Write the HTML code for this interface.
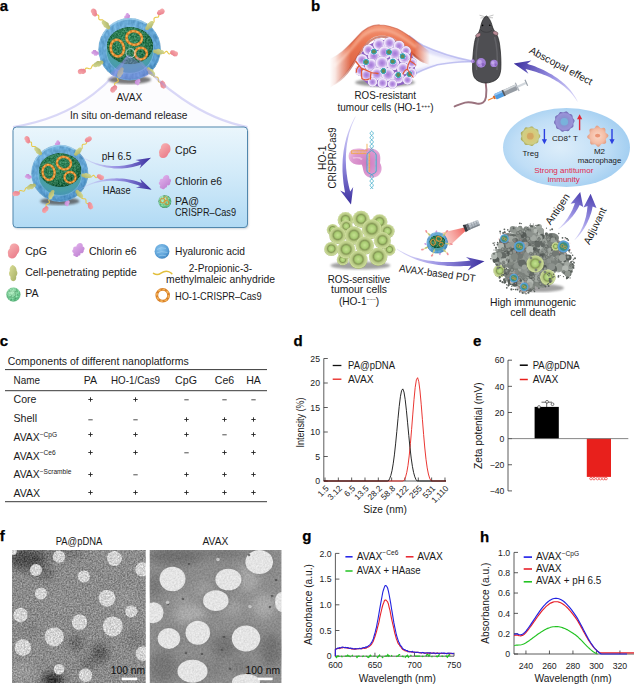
<!DOCTYPE html>
<html><head><meta charset="utf-8"><title>Figure</title>
<style>html,body{margin:0;padding:0;background:#fff}svg{display:block}text{font-family:"Liberation Sans",sans-serif}</style>
</head><body>
<svg width="634" height="685" viewBox="0 0 634 685">
<defs>
<filter id="grainL" x="0" y="0" width="100%" height="100%" color-interpolation-filters="sRGB">
  <feTurbulence type="fractalNoise" baseFrequency="0.62" numOctaves="2" seed="4" result="n"/>
  <feColorMatrix in="n" type="matrix" values="1.6 0 0 0 -0.3  1.6 0 0 0 -0.3  1.6 0 0 0 -0.3  0 0 0 0 1" result="g"/>
  <feComposite in="SourceGraphic" in2="g" operator="arithmetic" k1="0" k2="1" k3="0.28" k4="-0.14"/>
</filter>
<filter id="grainR" x="0" y="0" width="100%" height="100%" color-interpolation-filters="sRGB">
  <feTurbulence type="fractalNoise" baseFrequency="0.55" numOctaves="2" seed="9" result="n"/>
  <feColorMatrix in="n" type="matrix" values="1.4 0 0 0 -0.2  1.4 0 0 0 -0.2  1.4 0 0 0 -0.2  0 0 0 0 1" result="g"/>
  <feComposite in="SourceGraphic" in2="g" operator="arithmetic" k1="0" k2="1" k3="0.12" k4="-0.06"/>
</filter>
<filter id="grainShell" x="0" y="0" width="100%" height="100%" color-interpolation-filters="sRGB">
  <feTurbulence type="fractalNoise" baseFrequency="0.35 0.2" numOctaves="2" seed="5" result="n"/>
  <feColorMatrix in="n" type="matrix" values="1.5 0 0 0 -0.25  1.5 0 0 0 -0.25  1.5 0 0 0 -0.25  0 0 0 0 1" result="g"/>
  <feComposite in="SourceGraphic" in2="g" operator="arithmetic" k1="0" k2="1" k3="0.16" k4="-0.08" result="c"/>
  <feComposite in="c" in2="SourceGraphic" operator="in"/>
</filter>
<filter id="b06"><feGaussianBlur stdDeviation="0.6"/></filter>
<filter id="b1"><feGaussianBlur stdDeviation="1"/></filter>
<filter id="b2"><feGaussianBlur stdDeviation="2"/></filter>
<filter id="b4"><feGaussianBlur stdDeviation="4"/></filter>
<filter id="b8"><feGaussianBlur stdDeviation="8"/></filter>
<clipPath id="clipL"><rect x="12" y="550" width="133.7" height="133"/></clipPath>
<clipPath id="clipR"><rect x="149.6" y="550" width="132" height="133"/></clipPath>
</defs>
<defs>
<radialGradient id="gShell" cx="0.45" cy="0.4" r="0.62">
  <stop offset="0" stop-color="#7ab6de"/><stop offset="0.6" stop-color="#65a6d4"/><stop offset="0.88" stop-color="#5598cb"/><stop offset="1" stop-color="#3c7eb4"/>
</radialGradient>
<radialGradient id="gCav" cx="0.5" cy="0.35" r="0.7">
  <stop offset="0" stop-color="#3f9a8a"/><stop offset="0.75" stop-color="#4a9fa8"/><stop offset="1" stop-color="#4490b8"/>
</radialGradient>
<radialGradient id="gCore" cx="0.45" cy="0.4" r="0.65">
  <stop offset="0" stop-color="#378a60"/><stop offset="0.6" stop-color="#2c7a52"/><stop offset="1" stop-color="#1d5c3c"/>
</radialGradient>
<radialGradient id="gPA" cx="0.4" cy="0.35" r="0.7">
  <stop offset="0" stop-color="#aee6bd"/><stop offset="0.6" stop-color="#72c690"/><stop offset="1" stop-color="#48a66e"/>
</radialGradient>
<radialGradient id="gHA" cx="0.4" cy="0.35" r="0.7">
  <stop offset="0" stop-color="#8cc6ee"/><stop offset="0.7" stop-color="#5a9fd6"/><stop offset="1" stop-color="#3f82bd"/>
</radialGradient>
<linearGradient id="gCpG" x1="0" y1="0" x2="1" y2="1"><stop offset="0" stop-color="#f8b4b4"/><stop offset="1" stop-color="#e87484"/></linearGradient>
<linearGradient id="gCe6" x1="0" y1="0" x2="1" y2="1"><stop offset="0" stop-color="#e6b8f0"/><stop offset="1" stop-color="#b878cc"/></linearGradient>
<linearGradient id="gPep" x1="0" y1="0" x2="1" y2="1"><stop offset="0" stop-color="#dde09a"/><stop offset="1" stop-color="#a4ad62"/></linearGradient>
<linearGradient id="gBox" x1="0" y1="0" x2="0" y2="1"><stop offset="0" stop-color="#eaf6fc"/><stop offset="0.45" stop-color="#d3ebf9"/><stop offset="1" stop-color="#b1daf4"/></linearGradient>
<filter id="grainCore" x="0" y="0" width="100%" height="100%" color-interpolation-filters="sRGB">
  <feTurbulence type="fractalNoise" baseFrequency="0.55" numOctaves="2" seed="2" result="n"/>
  <feColorMatrix in="n" type="matrix" values="1.5 0 0 0 -0.25  1.5 0 0 0 -0.25  1.5 0 0 0 -0.25  0 0 0 0 1" result="g"/>
  <feComposite in="SourceGraphic" in2="g" operator="arithmetic" k1="0" k2="1" k3="0.3" k4="-0.15" result="c"/>
  <feComposite in="c" in2="SourceGraphic" operator="in"/>
</filter>
<!-- blob symbols drawn around origin, pointing up (-y) -->
<path id="sCpG" d="M-1 -5C1 -5.6 3.2 -4.6 3.4 -2.6C4 -1.4 3.8 0.4 2.8 1.4C2.8 3 1.6 4.8 -0.2 5C-1.8 5.2 -3 4.2 -3 2.8C-3.8 1.6 -3.6 0 -2.8 -1C-3.2 -2.8 -2.6 -4.4 -1 -5Z"/>
<path id="sCe6" d="M0.4 -5C1.6 -5.2 2.6 -4.2 2.4 -3C3.8 -3 4.4 -1.6 3.6 -0.6C4 0.8 3 1.8 1.8 1.6C2.2 2.8 1.6 3.6 0.8 3.4C0.6 4.6 -0.6 5.2 -1.4 4.4C-2.6 4.6 -3.2 3.4 -2.6 2.4C-3.8 2.2 -4.4 0.8 -3.4 0C-4 -1.2 -3 -2.2 -1.8 -2C-1.8 -3.6 -0.8 -4.8 0.4 -5Z"/>
<path id="sPep" d="M0 -5.2C1.5 -4.6 2.4 -3 2.2 -1.4C2.9 -0.4 2.7 1.2 1.7 2C2 3.6 1.1 5 -0.2 5C-1.6 4.9 -2.2 3.5 -1.8 2.2C-2.9 1.2 -2.9 -0.6 -2 -1.6C-2.4 -3.2 -1.4 -4.8 0 -5.2Z"/>
</defs>
<defs>
<radialGradient id="gPurp" cx="0.5" cy="0.5" r="0.5">
  <stop offset="0" stop-color="#a378d6"/><stop offset="0.4" stop-color="#bb96e4"/><stop offset="0.62" stop-color="#d6bff0"/><stop offset="0.8" stop-color="#f1eafb"/><stop offset="0.93" stop-color="#e9dcf7"/><stop offset="1" stop-color="#a98cd2"/>
</radialGradient>
<radialGradient id="gTeal" cx="0.5" cy="0.5" r="0.5">
  <stop offset="0" stop-color="#6f8a4c"/><stop offset="0.5" stop-color="#5f8a58"/><stop offset="0.62" stop-color="#3a9cae"/><stop offset="0.9" stop-color="#4ab0c0"/><stop offset="1" stop-color="#e8f4f8"/>
</radialGradient>
<radialGradient id="gGreenCell" cx="0.5" cy="0.48" r="0.52">
  <stop offset="0" stop-color="#c4e090"/><stop offset="0.34" stop-color="#a8cc72"/><stop offset="0.5" stop-color="#869a56"/><stop offset="0.66" stop-color="#b6c882"/><stop offset="0.9" stop-color="#ccdb9a"/><stop offset="1" stop-color="#9aac64"/>
</radialGradient>
<linearGradient id="gSkin" x1="0" y1="0" x2="0" y2="1"><stop offset="0" stop-color="#f29474"/><stop offset="0.3" stop-color="#ea7450"/><stop offset="1" stop-color="#d25a40"/></linearGradient>
<linearGradient id="gArchM" gradientUnits="userSpaceOnUse" x1="322" y1="0" x2="432" y2="0"><stop offset="0" stop-color="#000"/><stop offset="0.07" stop-color="#000"/><stop offset="0.12" stop-color="#262626"/><stop offset="0.18" stop-color="#8a8a8a"/><stop offset="0.26" stop-color="#fff"/><stop offset="0.84" stop-color="#fff"/><stop offset="0.98" stop-color="#000"/><stop offset="1" stop-color="#000"/></linearGradient>
<mask id="mArch" maskUnits="userSpaceOnUse" x="320" y="15" width="115" height="80"><rect x="320" y="15" width="115" height="80" fill="url(#gArchM)"/></mask>
<linearGradient id="gSkinFade" gradientUnits="userSpaceOnUse" x1="326" y1="0" x2="358" y2="0"><stop offset="0" stop-color="#fff" stop-opacity="1"/><stop offset="1" stop-color="#fff" stop-opacity="0"/></linearGradient>
<linearGradient id="gSkinFadeR" gradientUnits="userSpaceOnUse" x1="414" y1="0" x2="431" y2="0"><stop offset="0" stop-color="#fff" stop-opacity="0"/><stop offset="1" stop-color="#fff" stop-opacity="1"/></linearGradient>
<radialGradient id="gImm" cx="0.45" cy="0.5" r="0.6">
  <stop offset="0" stop-color="#dcedfa"/><stop offset="0.6" stop-color="#c0def6"/><stop offset="1" stop-color="#9ccbf0"/>
</radialGradient>
<radialGradient id="gTreg" cx="0.5" cy="0.5" r="0.5"><stop offset="0" stop-color="#d8b46a"/><stop offset="0.35" stop-color="#d8c878"/><stop offset="0.8" stop-color="#cfcf86"/><stop offset="1" stop-color="#a8a85a"/></radialGradient>
<radialGradient id="gCD8" cx="0.5" cy="0.5" r="0.5"><stop offset="0" stop-color="#7fb0d8"/><stop offset="0.4" stop-color="#8a90d0"/><stop offset="0.8" stop-color="#9a92d8"/><stop offset="1" stop-color="#6c64b0"/></radialGradient>
<radialGradient id="gM2" cx="0.5" cy="0.5" r="0.5"><stop offset="0" stop-color="#fbd8c8"/><stop offset="0.7" stop-color="#f4bca4"/><stop offset="1" stop-color="#e09a80"/></radialGradient>
<radialGradient id="gCas" cx="0.55" cy="0.5" r="0.6"><stop offset="0" stop-color="#cf7cc0"/><stop offset="0.7" stop-color="#dc98d0"/><stop offset="1" stop-color="#eab8e0"/></radialGradient>
</defs>
<text x="-0.3" y="11.35" font-size="15" font-weight="bold" fill="#000" stroke="#000" stroke-width="0.25">a</text>
<ellipse cx="129.6" cy="79.8" rx="21.5" ry="4.2" fill="#4a4a4a" opacity="0.75" filter="url(#b1)"/>
<path d="M103.6 22.3 L103.6 21.2 L103.3 20.4 L102.6 19.9 L101.6 19.8 L100.4 19.9 L99.5 19.7 L98.9 19.2 L98.7 18.2 L98.8 17.1 L98.8 16.0 L98.4 15.3 L97.6 14.9 L96.5 14.9 L95.4 14.9" stroke="#e8c94a" stroke-width="1.1" fill="none" stroke-linecap="round" stroke-linejoin="round"/>
<use href="#sCpG" transform="translate(94.1 12.5) rotate(-34) scale(0.8)" fill="url(#gCpG)"/>
<use href="#sCe6" transform="translate(127.1 16.9) rotate(-4) scale(0.78)" fill="url(#gCe6)"/>
<path d="M151.8 22.9 L152.9 22.7 L153.7 22.4 L154.1 21.6 L154.1 20.6 L154.0 19.4 L154.1 18.4 L154.6 17.7 L155.5 17.4 L156.7 17.3 L157.8 17.2 L158.5 16.7 L158.8 15.9 L158.7 14.8 L158.6 13.6" stroke="#e8c94a" stroke-width="1.1" fill="none" stroke-linecap="round" stroke-linejoin="round"/>
<use href="#sCpG" transform="translate(160.8 12.1) rotate(50) scale(0.8)" fill="url(#gCpG)"/>
<path d="M162.0 52.1 L162.6 53.0 L163.2 53.4 L163.9 53.3 L164.7 52.7 L165.4 51.9 L166.1 51.4 L166.8 51.4 L167.4 52.0 L168.0 52.9 L168.7 53.7 L169.3 54.0 L170.0 53.7 L170.8 53.0 L171.5 52.3" stroke="#e8c94a" stroke-width="1.1" fill="none" stroke-linecap="round" stroke-linejoin="round"/>
<use href="#sCpG" transform="translate(174.0 53.2) rotate(105) scale(0.8)" fill="url(#gCpG)"/>
<path d="M153.3 74.4 L153.3 75.5 L153.6 76.4 L154.3 76.8 L155.3 77.0 L156.5 77.0 L157.5 77.2 L158.1 77.8 L158.3 78.7 L158.2 79.9 L158.3 81.0 L158.6 81.8 L159.4 82.1 L160.6 82.2 L161.7 82.2" stroke="#e8c94a" stroke-width="1.1" fill="none" stroke-linecap="round" stroke-linejoin="round"/>
<use href="#sCpG" transform="translate(163.0 84.6) rotate(147) scale(0.8)" fill="url(#gCpG)"/>
<use href="#sCe6" transform="translate(137.6 81.3) rotate(166) scale(0.78)" fill="url(#gCe6)"/>
<path d="M119.1 75.8 L118.0 76.3 L117.3 76.9 L117.2 77.7 L117.6 78.7 L118.0 79.8 L118.3 80.8 L118.0 81.5 L117.2 82.1 L116.1 82.6 L115.2 83.1 L114.6 83.7 L114.6 84.6 L115.0 85.7 L115.5 86.7" stroke="#e8c94a" stroke-width="1.1" fill="none" stroke-linecap="round" stroke-linejoin="round"/>
<use href="#sCpG" transform="translate(113.8 88.9) rotate(212) scale(0.8)" fill="url(#gCpG)"/>
<path d="M95.1 65.2 L94.0 64.9 L93.0 64.9 L92.4 65.4 L91.9 66.4 L91.4 67.5 L90.9 68.4 L90.1 68.8 L89.1 68.7 L88.0 68.3 L86.9 68.0 L86.0 68.1 L85.4 68.8 L84.9 69.8 L84.5 70.9" stroke="#e8c94a" stroke-width="1.1" fill="none" stroke-linecap="round" stroke-linejoin="round"/>
<use href="#sCpG" transform="translate(81.9 71.4) rotate(255) scale(0.8)" fill="url(#gCpG)"/>
<use href="#sCe6" transform="translate(95.3 52.9) rotate(264) scale(0.78)" fill="url(#gCe6)"/>
<g filter="url(#grainShell)"><circle cx="129.6" cy="49.3" r="31.3" fill="url(#gShell)"/></g>
<ellipse cx="129.9" cy="50.8" rx="23.6" ry="22.6" fill="url(#gCav)"/>
<ellipse cx="129.9" cy="50.8" rx="23.6" ry="22.6" fill="none" stroke="#8fc8ea" stroke-width="0.70" opacity="0.7"/>
<g filter="url(#grainCore)"><ellipse cx="130.0" cy="45.7" rx="23.2" ry="18.6" fill="url(#gCore)"/></g>
<circle cx="129.6" cy="49.3" r="30.8" fill="none" stroke="#9fd0f0" stroke-width="0.80" opacity="0.55"/>
<path d="M102.7 35.2A30.4 30.4 0 0 1 145.2 23.3" fill="none" stroke="#b5dcf4" stroke-width="1.60" opacity="0.55" stroke-linecap="round"/>
<use href="#sPep" transform="translate(106.0 24.8) rotate(-44) scale(1.1)" fill="url(#gPep)"/>
<use href="#sPep" transform="translate(149.5 25.6) rotate(40) scale(1.1)" fill="url(#gPep)"/>
<use href="#sPep" transform="translate(158.5 51.8) rotate(95) scale(1.1)" fill="url(#gPep)"/>
<use href="#sPep" transform="translate(150.9 71.8) rotate(137) scale(1.1)" fill="url(#gPep)"/>
<use href="#sPep" transform="translate(120.4 72.5) rotate(202) scale(1.1)" fill="url(#gPep)"/>
<use href="#sPep" transform="translate(98.3 63.8) rotate(245) scale(1.1)" fill="url(#gPep)"/>
<ellipse cx="117.3" cy="48.1" rx="6.6" ry="8.4" fill="none" stroke="#d9822a" stroke-width="2.7" transform="rotate(-10 117.3 48.1)"/>
<ellipse cx="117.3" cy="48.1" rx="6.6" ry="8.4" fill="none" stroke="#f4b45a" stroke-width="1.49" stroke-dasharray="2.43 1.89" transform="rotate(-10 117.3 48.1)"/>
<ellipse cx="134.2" cy="38.0" rx="7.8" ry="6.8" fill="none" stroke="#d9822a" stroke-width="2.7" transform="rotate(15 134.2 38.0)"/>
<ellipse cx="134.2" cy="38.0" rx="7.8" ry="6.8" fill="none" stroke="#f4b45a" stroke-width="1.49" stroke-dasharray="2.43 1.89" transform="rotate(15 134.2 38.0)"/>
<ellipse cx="140.9" cy="53.6" rx="6.0" ry="5.8" fill="none" stroke="#d9822a" stroke-width="2.5"/>
<ellipse cx="140.9" cy="53.6" rx="6.0" ry="5.8" fill="none" stroke="#f4b45a" stroke-width="1.38" stroke-dasharray="2.25 1.75"/>
<circle cx="130.5" cy="53.2" r="4.5" fill="none" stroke="#e4eef4" stroke-width="0.80" opacity="0.9"/>
<path d="M127.5 56C118 74 84 116 13 127L247.5 127C200 118 158 84 136.5 57Z" fill="#a9a6ee" opacity="0.04"/>
<path d="M128.5 54.5L110 74Q130 86 153 73Z" fill="#8f8ce8" opacity="0.42" filter="url(#b06)"/>
<path d="M127.5 56C118 74 84 116 13 127" fill="none" stroke="#9a96ea" stroke-width="2.2" opacity="0.36" filter="url(#b06)"/>
<path d="M136.5 57C158 84 200 118 247.5 127" fill="none" stroke="#9a96ea" stroke-width="2.2" opacity="0.36" filter="url(#b06)"/>
<rect x="128" y="88" width="40" height="36" fill="#fff" opacity="0"/>
<text x="129.4" y="100.6" font-size="10.2" text-anchor="middle" fill="#1a1a1a">AVAX</text>
<text x="70" y="118.8" font-size="10.6" fill="#1a1a1a" textLength="117.5" lengthAdjust="spacingAndGlyphs">In situ on-demand release</text>
<rect x="14" y="128.6" width="234.2" height="100" rx="3.5" fill="#7a8a98" opacity="0.5" filter="url(#b1)"/>
<rect x="13" y="127" width="234.5" height="100.5" rx="3.5" fill="url(#gBox)" stroke="#5187ad" stroke-width="1"/>
<ellipse cx="59.8" cy="201.3" rx="19.6" ry="3.8" fill="#4a4a4a" opacity="0.75" filter="url(#b1)"/>
<path d="M36.0 148.8 L36.0 147.7 L35.8 147.0 L35.2 146.6 L34.2 146.5 L33.2 146.5 L32.3 146.4 L31.8 145.9 L31.6 145.0 L31.6 144.0 L31.6 143.0 L31.3 142.3 L30.6 142.0 L29.6 142.0 L28.6 142.0" stroke="#e8c94a" stroke-width="1.013738019169329" fill="none" stroke-linecap="round" stroke-linejoin="round"/>
<use href="#sCpG" transform="translate(27.4 139.8) rotate(-34) scale(0.7309904153354633)" fill="url(#gCpG)"/>
<use href="#sCe6" transform="translate(57.5 143.8) rotate(-4) scale(0.7127156549520767)" fill="url(#gCe6)"/>
<path d="M80.1 149.3 L81.1 149.1 L81.9 148.8 L82.2 148.1 L82.2 147.1 L82.1 146.1 L82.2 145.2 L82.6 144.6 L83.5 144.3 L84.6 144.2 L85.5 144.1 L86.2 143.6 L86.5 142.9 L86.4 141.8 L86.3 140.8" stroke="#e8c94a" stroke-width="1.013738019169329" fill="none" stroke-linecap="round" stroke-linejoin="round"/>
<use href="#sCpG" transform="translate(88.3 139.4) rotate(50) scale(0.7309904153354633)" fill="url(#gCpG)"/>
<path d="M89.4 176.0 L89.9 176.8 L90.5 177.2 L91.2 177.1 L91.8 176.5 L92.5 175.8 L93.2 175.3 L93.8 175.3 L94.4 175.9 L94.9 176.7 L95.5 177.4 L96.1 177.7 L96.7 177.4 L97.4 176.8 L98.1 176.1" stroke="#e8c94a" stroke-width="1.013738019169329" fill="none" stroke-linecap="round" stroke-linejoin="round"/>
<use href="#sCpG" transform="translate(100.4 177.0) rotate(105) scale(0.7309904153354633)" fill="url(#gCpG)"/>
<path d="M81.5 196.3 L81.5 197.3 L81.7 198.1 L82.3 198.6 L83.3 198.7 L84.4 198.7 L85.3 198.9 L85.8 199.4 L86.0 200.3 L86.0 201.3 L86.0 202.3 L86.3 203.1 L87.1 203.4 L88.1 203.5 L89.1 203.5" stroke="#e8c94a" stroke-width="1.013738019169329" fill="none" stroke-linecap="round" stroke-linejoin="round"/>
<use href="#sCpG" transform="translate(90.3 205.7) rotate(147) scale(0.7309904153354633)" fill="url(#gCpG)"/>
<use href="#sCe6" transform="translate(67.1 202.7) rotate(166) scale(0.7127156549520767)" fill="url(#gCe6)"/>
<path d="M50.2 197.6 L49.2 198.0 L48.6 198.6 L48.5 199.3 L48.8 200.3 L49.2 201.3 L49.4 202.2 L49.2 202.9 L48.5 203.4 L47.5 203.8 L46.6 204.3 L46.1 204.9 L46.1 205.7 L46.5 206.6 L46.9 207.6" stroke="#e8c94a" stroke-width="1.013738019169329" fill="none" stroke-linecap="round" stroke-linejoin="round"/>
<use href="#sCpG" transform="translate(45.4 209.6) rotate(212) scale(0.7309904153354633)" fill="url(#gCpG)"/>
<path d="M28.3 188.0 L27.3 187.6 L26.4 187.6 L25.8 188.1 L25.3 189.0 L24.9 190.0 L24.4 190.9 L23.7 191.2 L22.8 191.1 L21.8 190.7 L20.8 190.5 L20.0 190.6 L19.4 191.2 L19.0 192.1 L18.6 193.1" stroke="#e8c94a" stroke-width="1.013738019169329" fill="none" stroke-linecap="round" stroke-linejoin="round"/>
<use href="#sCpG" transform="translate(16.2 193.6) rotate(255) scale(0.7309904153354633)" fill="url(#gCpG)"/>
<use href="#sCe6" transform="translate(28.4 176.7) rotate(264) scale(0.7127156549520767)" fill="url(#gCe6)"/>
<g filter="url(#grainShell)"><circle cx="59.8" cy="173.4" r="28.6" fill="url(#gShell)"/></g>
<ellipse cx="60.1" cy="174.8" rx="21.6" ry="20.7" fill="url(#gCav)"/>
<ellipse cx="60.1" cy="174.8" rx="21.6" ry="20.7" fill="none" stroke="#8fc8ea" stroke-width="0.64" opacity="0.7"/>
<g filter="url(#grainCore)"><ellipse cx="60.2" cy="170.1" rx="21.2" ry="17.0" fill="url(#gCore)"/></g>
<circle cx="59.8" cy="173.4" r="28.1" fill="none" stroke="#9fd0f0" stroke-width="0.73" opacity="0.55"/>
<path d="M35.2 160.5A27.7 27.7 0 0 1 74.1 149.7" fill="none" stroke="#b5dcf4" stroke-width="1.46" opacity="0.55" stroke-linecap="round"/>
<use href="#sPep" transform="translate(38.2 151.1) rotate(-44) scale(1.005111821086262)" fill="url(#gPep)"/>
<use href="#sPep" transform="translate(78.0 151.7) rotate(40) scale(1.005111821086262)" fill="url(#gPep)"/>
<use href="#sPep" transform="translate(86.2 175.7) rotate(95) scale(1.005111821086262)" fill="url(#gPep)"/>
<use href="#sPep" transform="translate(79.3 194.0) rotate(137) scale(1.005111821086262)" fill="url(#gPep)"/>
<use href="#sPep" transform="translate(51.4 194.6) rotate(202) scale(1.005111821086262)" fill="url(#gPep)"/>
<use href="#sPep" transform="translate(31.2 186.6) rotate(245) scale(1.005111821086262)" fill="url(#gPep)"/>
<ellipse cx="48.6" cy="172.3" rx="6.0" ry="7.7" fill="none" stroke="#d9822a" stroke-width="2.4670926517571887" transform="rotate(-10 48.6 172.3)"/>
<ellipse cx="48.6" cy="172.3" rx="6.0" ry="7.7" fill="none" stroke="#f4b45a" stroke-width="1.36" stroke-dasharray="2.22 1.73" transform="rotate(-10 48.6 172.3)"/>
<ellipse cx="64.0" cy="163.1" rx="7.1" ry="6.2" fill="none" stroke="#d9822a" stroke-width="2.4670926517571887" transform="rotate(15 64.0 163.1)"/>
<ellipse cx="64.0" cy="163.1" rx="7.1" ry="6.2" fill="none" stroke="#f4b45a" stroke-width="1.36" stroke-dasharray="2.22 1.73" transform="rotate(15 64.0 163.1)"/>
<ellipse cx="70.1" cy="177.3" rx="5.5" ry="5.3" fill="none" stroke="#d9822a" stroke-width="2.2843450479233227"/>
<ellipse cx="70.1" cy="177.3" rx="5.5" ry="5.3" fill="none" stroke="#f4b45a" stroke-width="1.26" stroke-dasharray="2.06 1.60"/>
<linearGradient id="sw1" gradientUnits="userSpaceOnUse" x1="78" y1="153.5" x2="151" y2="157.7"><stop offset="0" stop-color="#c9c2f3" stop-opacity="0.25"/><stop offset="0.55" stop-color="#8f86e0" stop-opacity="0.9"/><stop offset="1" stop-color="#3a2e9e"/></linearGradient>
<path d="M77.9 153.6 L79.2 154.8 L80.7 156.0 L82.2 157.2 L83.8 158.3 L85.5 159.4 L87.3 160.4 L89.2 161.5 L91.1 162.4 L93.1 163.3 L95.2 164.2 L97.3 165.0 L99.5 165.7 L101.8 166.3 L104.1 166.9 L106.5 167.4 L109.0 167.8 L111.5 168.1 L114.0 168.4 L116.6 168.5 L119.2 168.5 L121.8 168.5 L124.5 168.3 L127.2 168.0 L130.0 167.5 L132.8 167.0 L135.6 166.3 L138.4 165.5 L141.2 164.5 L139.6 168.6 L151.0 157.7 L135.4 160.0 L139.9 161.2 L137.3 162.2 L134.6 163.1 L132.0 163.9 L129.4 164.5 L126.8 165.1 L124.2 165.5 L121.6 165.8 L119.1 166.0 L116.6 166.1 L114.1 166.1 L111.6 166.0 L109.2 165.8 L106.8 165.5 L104.5 165.1 L102.2 164.7 L100.0 164.2 L97.8 163.6 L95.6 162.9 L93.6 162.2 L91.5 161.4 L89.6 160.5 L87.7 159.6 L85.9 158.7 L84.2 157.7 L82.5 156.7 L81.0 155.6 L79.5 154.5 L78.1 153.4Z" fill="url(#sw1)"/>
<linearGradient id="sw2" gradientUnits="userSpaceOnUse" x1="78" y1="191" x2="151.7" y2="189.7"><stop offset="0" stop-color="#c9c2f3" stop-opacity="0.25"/><stop offset="0.55" stop-color="#8f86e0" stop-opacity="0.9"/><stop offset="1" stop-color="#3a2e9e"/></linearGradient>
<path d="M78.1 191.2 L79.5 190.2 L81.0 189.2 L82.5 188.3 L84.2 187.4 L85.9 186.5 L87.7 185.7 L89.6 184.9 L91.5 184.2 L93.5 183.6 L95.6 183.0 L97.8 182.4 L100.0 181.9 L102.2 181.5 L104.5 181.2 L106.9 180.9 L109.3 180.8 L111.7 180.7 L114.2 180.7 L116.7 180.8 L119.2 180.9 L121.8 181.2 L124.4 181.6 L127.0 182.1 L129.7 182.7 L132.3 183.4 L135.0 184.2 L137.7 185.1 L140.4 186.2 L135.9 187.4 L151.7 189.7 L140.1 178.8 L141.7 182.9 L138.8 181.9 L136.0 181.0 L133.1 180.3 L130.3 179.7 L127.5 179.2 L124.8 178.8 L122.1 178.6 L119.4 178.4 L116.8 178.3 L114.2 178.4 L111.6 178.5 L109.1 178.7 L106.6 179.0 L104.2 179.4 L101.9 179.9 L99.6 180.4 L97.4 181.0 L95.2 181.7 L93.2 182.4 L91.1 183.2 L89.2 184.0 L87.3 184.9 L85.5 185.8 L83.8 186.7 L82.2 187.7 L80.7 188.7 L79.2 189.8 L77.9 190.8Z" fill="url(#sw2)"/>
<text x="101.7" y="159.8" font-size="10.6" fill="#1a1a1a" textLength="29.8" lengthAdjust="spacingAndGlyphs">pH 6.5</text>
<text x="102.7" y="193.6" font-size="10.6" fill="#1a1a1a" textLength="27.9" lengthAdjust="spacingAndGlyphs">HAase</text>
<use href="#sCpG" transform="translate(164.6 150.8) rotate(12) scale(1.5)" fill="url(#gCpG)"/>
<use href="#sCe6" transform="translate(164.8 182.4) rotate(10) scale(1.5)" fill="url(#gCe6)"/>
<g filter="url(#grainCore)"><circle cx="164.8" cy="201.5" r="6.6" fill="url(#gPA)"/></g>
<circle cx="162.6" cy="200.6" r="2.3" fill="none" stroke="#e0902e" stroke-width="0.9"/><circle cx="166.8" cy="202.6" r="2.1" fill="none" stroke="#e0902e" stroke-width="0.9"/><circle cx="165.6" cy="198.6" r="1.8" fill="none" stroke="#e0902e" stroke-width="0.8"/>
<text x="175" y="153.8" font-size="10.6" fill="#1a1a1a">CpG</text>
<text x="175" y="184.9" font-size="10.6" fill="#1a1a1a" textLength="47" lengthAdjust="spacingAndGlyphs">Chlorin e6</text>
<text x="175" y="205" font-size="10.6" fill="#1a1a1a">PA@</text>
<text x="175" y="216" font-size="10.6" fill="#1a1a1a" textLength="61" lengthAdjust="spacingAndGlyphs">CRISPR–Cas9</text>
<use href="#sCpG" transform="translate(13.4 251.2) rotate(12) scale(1.5)" fill="url(#gCpG)"/>
<use href="#sCe6" transform="translate(78.3 250.2) rotate(10) scale(1.5)" fill="url(#gCe6)"/>
<use href="#sPep" transform="translate(13.2 273.2) rotate(-3) scale(1.6)" fill="url(#gPep)"/>
<g filter="url(#grainCore)"><circle cx="13.4" cy="294.6" r="7.1" fill="url(#gPA)"/></g>
<circle cx="13.4" cy="294.6" r="6.9" fill="none" stroke="#8fe0a8" stroke-width="0.6" opacity="0.8"/>
<circle cx="162" cy="251.3" r="7.4" fill="url(#gHA)"/>
<path d="M157 249.5Q161 246.5 166 248.5M156.5 253Q161 250.5 167.5 252.5M158.5 256Q162 254.5 166 255.8" stroke="#a8d6f4" stroke-width="0.7" fill="none" opacity="0.8"/>
<path d="M153.5 273.3C156 275 158.5 275 161 273.2C163.5 271.4 166 270.6 168.5 271.6C170 272.2 171 272.8 171.8 273.6" stroke="#e2bf3c" stroke-width="1.5" fill="none" stroke-linecap="round"/>
<ellipse cx="162.7" cy="295.3" rx="5.9" ry="5.9" fill="none" stroke="#d9822a" stroke-width="2.8"/>
<ellipse cx="162.7" cy="295.3" rx="5.9" ry="5.9" fill="none" stroke="#f4b45a" stroke-width="1.54" stroke-dasharray="2.52 1.96"/>
<text x="25.2" y="254.7" font-size="10.6" fill="#1a1a1a">CpG</text>
<text x="89" y="254.7" font-size="10.6" fill="#1a1a1a" textLength="47.5" lengthAdjust="spacingAndGlyphs">Chlorin e6</text>
<text x="25.2" y="275.8" font-size="10.6" fill="#1a1a1a" textLength="111.6" lengthAdjust="spacingAndGlyphs">Cell-penetrating peptide</text>
<text x="25.2" y="296.7" font-size="10.6" fill="#1a1a1a">PA</text>
<text x="175" y="254.7" font-size="10.6" fill="#1a1a1a" textLength="70" lengthAdjust="spacingAndGlyphs">Hyaluronic acid</text>
<text x="220.5" y="271.8" font-size="10.6" text-anchor="middle" fill="#1a1a1a" textLength="63.5" lengthAdjust="spacingAndGlyphs">2-Propionic-3-</text>
<text x="220.5" y="282.6" font-size="10.6" text-anchor="middle" fill="#1a1a1a" textLength="109" lengthAdjust="spacingAndGlyphs">methylmaleic anhydride</text>
<text x="175" y="299.8" font-size="10.6" fill="#1a1a1a" textLength="86.6" lengthAdjust="spacingAndGlyphs">HO-1-CRISPR–Cas9</text>
<text x="311" y="11.3" font-size="15" font-weight="bold" fill="#000" stroke="#000" stroke-width="0.25">b</text>
<path d="M471 60.8C452 57 437 52 423 45.5C417 42 412 38 409 35.5L410.5 76.5C417 72.5 424 69 437.6 64.7C452 62.3 462 61.6 471 61.8Z" fill="#c9caf5" opacity="0.6"/>
<path d="M462 61C446 59 430 55 414 47L414 70C430 65.5 446 62.6 462 61.6Z" fill="#fff" opacity="0.8" filter="url(#b1)"/>
<path d="M471 60.8C452 57 437 52 423 45.5C417 42 412 38 409 35.5" fill="none" stroke="#9fa0ea" stroke-width="1.5" opacity="0.6" filter="url(#b06)"/>
<path d="M471 61.8C462 61.6 452 62.3 437.6 64.7C424 69 417 72.5 410.5 76.5" fill="none" stroke="#9fa0ea" stroke-width="1.5" opacity="0.6" filter="url(#b06)"/>
<ellipse cx="385" cy="82.5" rx="30" ry="4.2" fill="#555" opacity="0.6" filter="url(#b1)"/>
<g mask="url(#mArch)">
<path d="M322 62C338 58 348 47 358 36C366 27 374 24.6 380 25C387 25.3 392 27 397 28.8C404 32 412 38 420 44.5C424 48 428 51 433 54L433 66C428 64.5 424 63 420.6 61.2C415 57 410 52 405 46.5C398 40 390 35.4 381 35.6C372 36 366 42 360 52C354 62 346 77 330 88L322 88Z" fill="url(#gSkin)"/>
<path d="M334 66C348 55 355 43 363 35.5C371 29 380 28.6 388 30.6C396 32.6 406 39 416 47" fill="none" stroke="#fbc0a6" stroke-width="3" opacity="0.6" filter="url(#b1)"/>
<path d="M334 84C348 76 354 62 361 51.5C367 42 374 37 381 36.6C390 36.4 398 41 405 47.5C411 53 416 58 424 62" fill="none" stroke="#b03e28" stroke-width="2.2" opacity="0.6" filter="url(#b06)"/>
<path d="M322 62C338 58 348 47 358 36C366 27 374 24.6 380 25C387 25.3 392 27 397 28.8C404 32 412 38 420 44.5C424 48 428 51 433 54" fill="none" stroke="#c8523a" stroke-width="1.2" opacity="0.6" filter="url(#b06)"/>
</g>
<path d="M359 62C360 50 370 41 384 40C398 39 410 47 414 60C417 70 413 80 404 84C394 88 378 88 368 84C361 80 358 72 359 62Z" fill="#8e62c2"/>
<circle cx="379" cy="44.5" r="6" fill="url(#gPurp)"/>
<circle cx="389.5" cy="43" r="6" fill="url(#gPurp)"/>
<circle cx="399" cy="46" r="5.6" fill="url(#gPurp)"/>
<circle cx="406" cy="51" r="5" fill="url(#gPurp)"/>
<circle cx="368.5" cy="50" r="5.6" fill="url(#gPurp)"/>
<circle cx="374" cy="56" r="6.2" fill="url(#gPurp)"/>
<circle cx="384.5" cy="52.5" r="6.6" fill="url(#gPurp)"/>
<circle cx="395" cy="53.5" r="6.6" fill="url(#gPurp)"/>
<circle cx="404.5" cy="58" r="6" fill="url(#gPurp)"/>
<circle cx="412" cy="63" r="5" fill="url(#gPurp)"/>
<circle cx="362" cy="60" r="6" fill="url(#gPurp)"/>
<circle cx="360.5" cy="70.5" r="5.4" fill="url(#gPurp)"/>
<circle cx="371" cy="65" r="6.6" fill="url(#gPurp)"/>
<circle cx="382" cy="63" r="6.8" fill="url(#gPurp)"/>
<circle cx="393" cy="64" r="6.6" fill="url(#gPurp)"/>
<circle cx="403" cy="68.5" r="6.2" fill="url(#gPurp)"/>
<circle cx="411.5" cy="73" r="5" fill="url(#gPurp)"/>
<circle cx="366.5" cy="75" r="6" fill="url(#gPurp)"/>
<circle cx="377" cy="74" r="6.6" fill="url(#gPurp)"/>
<circle cx="388" cy="74.5" r="6.8" fill="url(#gPurp)"/>
<circle cx="398" cy="77.5" r="6.2" fill="url(#gPurp)"/>
<circle cx="407.5" cy="80" r="4.8" fill="url(#gPurp)"/>
<circle cx="372.5" cy="82" r="4.8" fill="url(#gPurp)"/>
<circle cx="382.5" cy="83" r="5.2" fill="url(#gPurp)"/>
<circle cx="392.5" cy="84" r="4.8" fill="url(#gPurp)"/>
<circle cx="373.9" cy="51.6" r="3.2" fill="url(#gTeal)"/>
<circle cx="388.9" cy="52.1" r="3.2" fill="url(#gTeal)"/>
<circle cx="366" cy="62" r="3.2" fill="url(#gTeal)"/>
<circle cx="392.8" cy="61.5" r="3.2" fill="url(#gTeal)"/>
<circle cx="402.6" cy="56.3" r="3.2" fill="url(#gTeal)"/>
<circle cx="383.4" cy="71" r="3.2" fill="url(#gTeal)"/>
<circle cx="398.3" cy="74.9" r="3.2" fill="url(#gTeal)"/>
<circle cx="409.4" cy="74.1" r="3.2" fill="url(#gTeal)"/>
<path d="M355.8 61.5C358 64 359 66 361.5 68.5M361.5 68.5C362 72 361 75 362 78.5M361.5 68.5C365 69 368 71 371 72.5C374 73.5 376 73 378 73.5M362 78.5C364 80 367 80 369 79M359 66C357 68 356 70 356.5 72M371 72.5C371 75 370 77 370.5 79" stroke="#e2593a" stroke-width="1.3" fill="none" stroke-linecap="round"/>
<path d="M412.5 52C411 55 411.5 58 410 61C408.5 64 407 66 407.5 69C408 72 411 74 413 77M410 61C412 62.5 414 63 415.5 65M407.5 69C405 70 403.5 72 403 74" stroke="#e2593a" stroke-width="1.2" fill="none" stroke-linecap="round"/>
<text x="385.3" y="99.3" font-size="10.2" text-anchor="middle" fill="#1a1a1a" textLength="61.5" lengthAdjust="spacingAndGlyphs">ROS-resistant</text>
<text x="337.5" y="111.3" font-size="10.2" fill="#1a1a1a" textLength="96" lengthAdjust="spacingAndGlyphs">tumour cells (HO-1<tspan font-size="5.2" dy="-3.6">+++</tspan><tspan dy="3.6">)</tspan></text>
<path d="M485.7 82.5C486.4 87 486.8 92 486 97C485.2 102 482 104.6 477 103.6C473 102.7 469.5 101.6 465 102.6C461 103.6 458 105 454.6 106.4" fill="none" stroke="#9a727e" stroke-width="1.9" stroke-linecap="round"/>
<path d="M486.4 16C488.5 17 491 21 492.2 26C493 29 494.5 31 496 33.5C498 36 499 40 499.8 46C500.8 54 501.2 62 500.8 69C500.4 74 499 77.5 496.5 79.5C493.5 81.8 489 83 485.7 83C482.5 83 478.5 81.8 476 79.5C473.6 77.5 472.8 74 472.6 69C472.4 62 473 54 474 46C474.6 41 475.6 37 477.5 34.5C479 32.5 480 30 480.8 26C481.8 21 484 17 486.4 16Z" fill="#4e4e52" stroke="#1e1e20" stroke-width="0.7"/>
<path d="M478.5 38C476.5 46 475.6 58 476.6 70M494.6 37C497 46 497.8 58 497 70" fill="none" stroke="#77777c" stroke-width="1.4" opacity="0.5" filter="url(#b06)"/>
<path d="M481 30C483 33 490 33 492 30" fill="none" stroke="#2a2a2c" stroke-width="0.6" opacity="0.7"/>
<ellipse cx="478.2" cy="35.2" rx="2.8" ry="1.8" transform="rotate(-30 478.2 35.2)" fill="#b88a94" stroke="#3a3034" stroke-width="0.4"/>
<ellipse cx="495.4" cy="33.2" rx="2.8" ry="1.8" transform="rotate(25 495.4 33.2)" fill="#b88a94" stroke="#3a3034" stroke-width="0.4"/>
<circle cx="482.6" cy="25.4" r="0.8" fill="#000"/><circle cx="489.8" cy="25.2" r="0.8" fill="#000"/>
<path d="M485.8 17L479.5 15.2M485.8 17.5L480.5 18M487 17L493.5 15M487 17.5L493 17.8" stroke="#333" stroke-width="0.3" fill="none"/>
<circle cx="481.1" cy="62.9" r="4.8" fill="#a27fd6"/>
<circle cx="479.7" cy="61.9" r="2.2" fill="#c3a8ea"/><circle cx="483.0" cy="64.6" r="1.7" fill="#8a64c0"/><circle cx="480.6" cy="65.3" r="1.4" fill="#b695e2"/>
<circle cx="494" cy="63.4" r="3.7" fill="#a27fd6"/>
<circle cx="492.9" cy="62.7" r="1.7" fill="#c3a8ea"/><circle cx="495.5" cy="64.7" r="1.3" fill="#8a64c0"/><circle cx="493.6" cy="65.2" r="1.1" fill="#b695e2"/>
<circle cx="472.8" cy="61.2" r="1.9" fill="#a27fd6"/>
<circle cx="472.2" cy="60.8" r="0.9" fill="#c3a8ea"/><circle cx="473.6" cy="61.9" r="0.7" fill="#8a64c0"/><circle cx="472.6" cy="62.2" r="0.6" fill="#b695e2"/>
<g transform="translate(488 100.2) rotate(-24.5) scale(1.0 1.15)"><rect x="0" y="-0.5" width="6.5" height="1" fill="#f08030"/><rect x="6" y="-1.5" width="2" height="3" fill="#d86a2a"/><rect x="8" y="-2.6" width="9" height="5.2" rx="0.8" fill="#4f9ce0"/><rect x="8" y="-2.6" width="9" height="1.6" rx="0.8" fill="#9cc8f2" opacity="0.9"/><rect x="17" y="-2.6" width="14.5" height="5.2" rx="0.8" fill="#969ca4"/><rect x="17" y="-2.6" width="14.5" height="1.6" fill="#d3d8dc"/><rect x="16.4" y="-2.8" width="1.6" height="5.6" fill="#55585e"/><rect x="31.5" y="-4" width="1.2" height="8" fill="#aab0b8"/><rect x="32.5" y="-1" width="9" height="2" fill="#d2d7dc"/><rect x="41.5" y="-2.8" width="1.2" height="5.6" fill="#9aa2aa"/></g>
<linearGradient id="sw3" gradientUnits="userSpaceOnUse" x1="577.5" y1="101.5" x2="513.7" y2="63.5"><stop offset="0" stop-color="#b9b4f2" stop-opacity="0.5"/><stop offset="0.45" stop-color="#8f86e0" stop-opacity="0.9"/><stop offset="1" stop-color="#3a2e9e"/></linearGradient>
<path d="M577.7 101.4 L576.8 99.7 L575.9 98.1 L574.9 96.5 L573.9 94.9 L572.7 93.3 L571.6 91.7 L570.3 90.1 L569.0 88.6 L567.6 87.1 L566.1 85.6 L564.6 84.1 L563.0 82.7 L561.3 81.3 L559.6 79.9 L557.8 78.5 L555.9 77.2 L553.9 75.9 L551.9 74.6 L549.7 73.4 L547.5 72.2 L545.3 71.0 L542.9 69.8 L540.5 68.7 L538.0 67.7 L535.4 66.6 L532.7 65.6 L529.9 64.7 L527.1 63.8 L531.4 60.6 L513.7 63.5 L528.4 73.8 L525.6 69.1 L528.4 69.7 L531.1 70.5 L533.8 71.2 L536.3 72.0 L538.8 72.9 L541.3 73.8 L543.6 74.7 L545.9 75.6 L548.1 76.6 L550.2 77.6 L552.3 78.7 L554.3 79.8 L556.2 80.9 L558.1 82.1 L559.8 83.3 L561.6 84.5 L563.2 85.8 L564.8 87.0 L566.4 88.4 L567.8 89.7 L569.2 91.1 L570.6 92.5 L571.9 94.0 L573.1 95.4 L574.2 96.9 L575.3 98.5 L576.3 100.0 L577.3 101.6Z" fill="url(#sw3)"/>
<text x="528.5" y="52.5" font-size="10.2" fill="#1a1a1a" textLength="70" lengthAdjust="spacingAndGlyphs" transform="rotate(28 528.5 52.5)">Abscopal effect</text>
<ellipse cx="566.5" cy="147.5" rx="63.5" ry="39.5" fill="url(#gImm)"/>
<path d="M540.3 136.2 L540.1 137.1 L539.6 137.8 L539.0 138.5 L538.6 139.2 L538.5 140.0 L538.4 140.9 L538.3 141.8 L537.9 142.6 L537.2 143.1 L536.3 143.4 L535.5 143.6 L534.7 143.9 L534.1 144.4 L533.5 145.0 L532.8 145.7 L532.0 146.0 L531.2 146.0 L530.3 145.6 L529.5 145.2 L528.8 144.9 L528.0 144.9 L527.1 145.0 L526.2 145.1 L525.3 144.8 L524.7 144.2 L524.3 143.4 L523.9 142.6 L523.5 141.9 L522.9 141.4 L522.2 140.9 L521.4 140.3 L520.9 139.6 L520.8 138.7 L521.0 137.8 L521.3 137.0 L521.5 136.2 L521.3 135.4 L521.0 134.6 L520.8 133.7 L520.9 132.8 L521.4 132.1 L522.2 131.5 L522.9 131.0 L523.5 130.5 L523.9 129.8 L524.3 129.0 L524.7 128.2 L525.3 127.6 L526.2 127.3 L527.1 127.4 L528.0 127.5 L528.8 127.5 L529.5 127.2 L530.3 126.8 L531.2 126.4 L532.0 126.4 L532.8 126.7 L533.5 127.4 L534.1 128.0 L534.7 128.5 L535.5 128.8 L536.3 129.0 L537.2 129.3 L537.9 129.8 L538.3 130.6 L538.4 131.5 L538.5 132.4 L538.6 133.2 L539.0 133.9 L539.6 134.6 L540.1 135.3Z" fill="url(#gTreg)"/>
<circle cx="530.3" cy="136.2" r="3.4" fill="#d2a25e" opacity="0.8" filter="url(#b06)"/>
<path d="M574.4 121.6 L574.0 122.4 L573.6 123.1 L573.4 123.8 L573.4 124.5 L573.5 125.4 L573.4 126.2 L573.1 127.0 L572.4 127.5 L571.7 127.9 L570.9 128.2 L570.4 128.7 L569.9 129.3 L569.5 130.0 L568.9 130.7 L568.2 131.1 L567.4 131.2 L566.6 131.0 L565.8 130.9 L565.0 130.9 L564.3 131.1 L563.5 131.5 L562.7 131.7 L561.9 131.6 L561.2 131.2 L560.6 130.6 L560.0 130.0 L559.4 129.5 L558.7 129.3 L557.9 129.1 L557.1 128.8 L556.5 128.3 L556.2 127.5 L556.0 126.7 L555.9 125.9 L555.7 125.2 L555.2 124.5 L554.7 123.9 L554.2 123.2 L554.1 122.4 L554.2 121.6 L554.6 120.8 L555.0 120.1 L555.2 119.4 L555.2 118.7 L555.1 117.8 L555.2 117.0 L555.5 116.2 L556.2 115.7 L556.9 115.3 L557.7 115.0 L558.2 114.5 L558.7 113.9 L559.1 113.2 L559.7 112.5 L560.4 112.1 L561.2 112.0 L562.0 112.2 L562.8 112.3 L563.6 112.3 L564.3 112.1 L565.1 111.7 L565.9 111.5 L566.7 111.6 L567.4 112.0 L568.0 112.6 L568.6 113.2 L569.2 113.7 L569.9 113.9 L570.7 114.1 L571.5 114.4 L572.1 114.9 L572.4 115.7 L572.6 116.5 L572.7 117.3 L572.9 118.0 L573.4 118.7 L573.9 119.3 L574.4 120.0 L574.5 120.8Z" fill="url(#gCD8)"/>
<circle cx="564.3" cy="121.8" r="3.8" fill="#78b4dc" opacity="0.9" filter="url(#b06)"/>
<path d="M608.3 136.2 L607.6 137.2 L606.7 138.0 L606.0 138.7 L605.8 139.5 L606.0 140.6 L606.2 141.8 L606.0 142.9 L605.2 143.6 L604.1 143.9 L602.9 143.8 L601.8 143.8 L601.1 144.2 L600.5 145.1 L599.8 146.1 L598.8 146.8 L597.8 146.7 L596.8 146.0 L596.0 145.1 L595.3 144.4 L594.5 144.2 L593.4 144.4 L592.2 144.6 L591.1 144.4 L590.4 143.6 L590.1 142.5 L590.2 141.3 L590.2 140.2 L589.8 139.5 L588.9 138.9 L587.9 138.2 L587.2 137.2 L587.3 136.2 L588.0 135.2 L588.9 134.4 L589.6 133.7 L589.8 132.9 L589.6 131.8 L589.4 130.6 L589.6 129.5 L590.4 128.8 L591.5 128.5 L592.7 128.6 L593.8 128.6 L594.5 128.2 L595.1 127.3 L595.8 126.3 L596.8 125.6 L597.8 125.7 L598.8 126.4 L599.6 127.3 L600.3 128.0 L601.1 128.2 L602.2 128.0 L603.4 127.8 L604.5 128.0 L605.2 128.8 L605.5 129.9 L605.4 131.1 L605.4 132.2 L605.8 132.9 L606.7 133.5 L607.7 134.2 L608.4 135.2Z" fill="url(#gM2)"/>
<ellipse cx="597.6" cy="135.6" rx="2.6" ry="1.9" fill="#e88a68" opacity="0.85" filter="url(#b06)"/>
<path d="M544.4 129V140.2" stroke="#2a3fe0" stroke-width="1.4" fill="none"/><path d="M541.8 139.2L544.4 144.2L547.0 139.2Z" fill="#2a3fe0"/>
<path d="M579.6 130.2V118.2" stroke="#e02a3a" stroke-width="1.4" fill="none"/><path d="M577.0 119.2L579.6 114.2L582.2 119.2Z" fill="#e02a3a"/>
<path d="M612 129V140.2" stroke="#2a3fe0" stroke-width="1.4" fill="none"/><path d="M609.4 139.2L612 144.2L614.6 139.2Z" fill="#2a3fe0"/>
<text x="565" y="141.2" font-size="8" fill="#1a1a1a" text-anchor="middle">CD8<tspan font-size="5" dy="-3">+</tspan><tspan dy="3"> T</tspan></text>
<text x="530.5" y="155.6" font-size="8" text-anchor="middle" fill="#1a1a1a">Treg</text>
<text x="599.5" y="153.8" font-size="8" text-anchor="middle" fill="#1a1a1a">M2</text>
<text x="599.5" y="163" font-size="8" text-anchor="middle" fill="#1a1a1a" textLength="43.5" lengthAdjust="spacingAndGlyphs">macrophage</text>
<text x="563.8" y="172.8" font-size="8" text-anchor="middle" fill="#e0284e" textLength="59" lengthAdjust="spacingAndGlyphs">Strong antitumor</text>
<text x="563.8" y="181.8" font-size="8" text-anchor="middle" fill="#e0284e">immunity</text>
<linearGradient id="sw4" gradientUnits="userSpaceOnUse" x1="355.5" y1="116.5" x2="351" y2="204.4"><stop offset="0" stop-color="#b9b4f2" stop-opacity="0.5"/><stop offset="0.5" stop-color="#8f86e0" stop-opacity="0.9"/><stop offset="1" stop-color="#3a2e9e"/></linearGradient>
<path d="M355.3 116.4 L354.1 118.6 L352.9 120.9 L351.8 123.2 L350.8 125.5 L349.8 127.9 L348.9 130.3 L348.0 132.7 L347.2 135.2 L346.4 137.7 L345.8 140.3 L345.1 142.9 L344.6 145.6 L344.1 148.3 L343.6 151.0 L343.3 153.7 L343.0 156.5 L342.7 159.4 L342.6 162.2 L342.5 165.1 L342.5 168.1 L342.5 171.0 L342.7 174.1 L342.9 177.1 L343.2 180.2 L343.5 183.3 L344.0 186.4 L344.5 189.6 L345.1 192.8 L340.2 190.5 L351.0 204.4 L353.2 186.9 L350.2 191.6 L349.4 188.6 L348.7 185.5 L348.1 182.5 L347.5 179.6 L347.1 176.6 L346.7 173.7 L346.4 170.8 L346.1 167.9 L346.0 165.1 L345.9 162.3 L345.8 159.5 L345.9 156.7 L346.0 154.0 L346.2 151.3 L346.4 148.6 L346.7 145.9 L347.1 143.3 L347.6 140.7 L348.1 138.2 L348.7 135.6 L349.3 133.1 L350.1 130.7 L350.8 128.2 L351.7 125.8 L352.6 123.5 L353.6 121.2 L354.6 118.9 L355.7 116.6Z" fill="url(#sw4)"/>
<text x="326.2" y="157.7" font-size="10.2" text-anchor="middle" fill="#1a1a1a" transform="rotate(-90 326.2 157.7)">HO-1</text>
<text x="336.2" y="157.9" font-size="10.2" text-anchor="middle" fill="#1a1a1a" textLength="61" lengthAdjust="spacingAndGlyphs" transform="rotate(-90 336.2 157.9)">CRISPR/Cas9</text>
<path d="M350 151.5C353 147.5 361 148.5 364.5 149.5C368 147.5 374 148 377.5 151C381 154 380.5 159 380 163C382.5 167 382 172 379 175C375.5 178.5 369 178.5 366 175.5C362.5 172.5 363.5 167 361.5 164.5C357.5 165.5 352 164 349.8 160.5C348 157.5 348.3 154 350 151.5Z" fill="url(#gCas)" filter="url(#b06)"/>
<path d="M353 158C357 156.5 360 157.5 362 159.5" stroke="#f0cbe8" stroke-width="2" fill="none" opacity="0.7" filter="url(#b06)"/>
<path d="M371.7 131.2 L372.3 131.7 L372.8 132.2 L373.1 132.7 L373.3 133.2 L373.2 133.7 L373.0 134.2 L372.5 134.7 L372.0 135.2 L371.4 135.7 L370.9 136.3 L370.4 136.8 L370.2 137.3 L370.1 137.8 L370.3 138.3 L370.6 138.8 L371.1 139.3 L371.7 139.8 L372.3 140.3 L372.8 140.8 L373.1 141.3 L373.3 141.8 L373.2 142.3 L373.0 142.8 L372.6 143.3 L372.0 143.8 L371.4 144.3 L370.9 144.8 L370.4 145.3 L370.2 145.9 L370.1 146.4 L370.3 146.9 L370.6 147.4 L371.1 147.9 L371.7 148.4 L372.3 148.9 L372.8 149.4 L373.1 149.9 L373.3 150.4" stroke="#3aa9c8" stroke-width="0.8" fill="none"/>
<path d="M371.7 131.2 L371.1 131.7 L370.6 132.2 L370.3 132.7 L370.1 133.2 L370.2 133.7 L370.4 134.2 L370.9 134.7 L371.4 135.2 L372.0 135.7 L372.5 136.3 L373.0 136.8 L373.2 137.3 L373.3 137.8 L373.1 138.3 L372.8 138.8 L372.3 139.3 L371.7 139.8 L371.1 140.3 L370.6 140.8 L370.3 141.3 L370.1 141.8 L370.2 142.3 L370.4 142.8 L370.8 143.3 L371.4 143.8 L372.0 144.3 L372.5 144.8 L373.0 145.3 L373.2 145.9 L373.3 146.4 L373.1 146.9 L372.8 147.4 L372.3 147.9 L371.7 148.4 L371.1 148.9 L370.6 149.4 L370.3 149.9 L370.1 150.4" stroke="#3aa9c8" stroke-width="0.8" fill="none"/>
<path d="M371.7 174.6 L372.3 175.1 L372.8 175.6 L373.1 176.1 L373.3 176.7 L373.2 177.2 L372.9 177.7 L372.5 178.2 L371.9 178.7 L371.3 179.2 L370.8 179.7 L370.4 180.3 L370.1 180.8 L370.1 181.3 L370.3 181.8 L370.7 182.3 L371.3 182.8 L371.9 183.3 L372.4 183.9 L372.9 184.4 L373.2 184.9 L373.3 185.4 L373.2 185.9 L372.8 186.4 L372.3 186.9 L371.8 187.5 L371.2 188.0 L370.6 188.5 L370.3 189.0" stroke="#3aa9c8" stroke-width="0.8" fill="none"/>
<path d="M371.7 174.6 L371.1 175.1 L370.6 175.6 L370.3 176.1 L370.1 176.7 L370.2 177.2 L370.5 177.7 L370.9 178.2 L371.5 178.7 L372.1 179.2 L372.6 179.7 L373.0 180.3 L373.3 180.8 L373.3 181.3 L373.1 181.8 L372.7 182.3 L372.1 182.8 L371.5 183.3 L371.0 183.9 L370.5 184.4 L370.2 184.9 L370.1 185.4 L370.2 185.9 L370.6 186.4 L371.1 186.9 L371.6 187.5 L372.2 188.0 L372.8 188.5 L373.1 189.0" stroke="#3aa9c8" stroke-width="0.8" fill="none"/>
<path d="M371.7 150.4C370 152 367.2 152.5 367 155V171C367.2 173 370 173.4 371.7 174.6M371.7 150.4C373.5 152 376 152.5 376.2 155V171C376 173 373.5 173.4 371.7 174.6" stroke="#3aa9c8" stroke-width="0.9" fill="none"/>
<path d="M367.8 154V171M375.4 155V171" stroke="#7fcbe0" stroke-width="1.4" fill="none" stroke-dasharray="0.5 0.7"/>
<path d="M367 143.8V150.8H351.4V153.6H366.5" stroke="#f0a43c" stroke-width="0.8" fill="none"/>
<path d="M352.4 152.2H365.8" stroke="#f6c173" stroke-width="2" fill="none" stroke-dasharray="0.6 0.8"/>
<path d="M369.6 153.5V172" stroke="#f0a43c" stroke-width="0.8" fill="none"/>
<path d="M368.9 154V172" stroke="#f6c173" stroke-width="1.6" fill="none" stroke-dasharray="0.6 0.8"/>
<ellipse cx="360.4" cy="265.5" rx="30" ry="3.8" fill="#555" opacity="0.55" filter="url(#b1)"/>
<circle cx="345.5" cy="219.9" r="7.8" fill="url(#gGreenCell)"/>
<circle cx="361.1" cy="219.2" r="8.5" fill="url(#gGreenCell)"/>
<circle cx="379.6" cy="222" r="7.8" fill="url(#gGreenCell)"/>
<circle cx="332.7" cy="229.8" r="5.9" fill="url(#gGreenCell)"/>
<circle cx="387.4" cy="231.3" r="7.1" fill="url(#gGreenCell)"/>
<circle cx="346.2" cy="226.3" r="6.4" fill="url(#gGreenCell)"/>
<circle cx="371.8" cy="229.1" r="9.9" fill="url(#gGreenCell)"/>
<circle cx="389.5" cy="249.7" r="5.9" fill="url(#gGreenCell)"/>
<circle cx="337.7" cy="235.5" r="8.5" fill="url(#gGreenCell)"/>
<circle cx="354" cy="235.5" r="9.2" fill="url(#gGreenCell)"/>
<circle cx="382.4" cy="240.5" r="8.5" fill="url(#gGreenCell)"/>
<circle cx="331.3" cy="249" r="7.1" fill="url(#gGreenCell)"/>
<circle cx="342.7" cy="259.7" r="5.9" fill="url(#gGreenCell)"/>
<circle cx="364.7" cy="245.5" r="9.2" fill="url(#gGreenCell)"/>
<circle cx="346.2" cy="249.7" r="9.2" fill="url(#gGreenCell)"/>
<circle cx="378.2" cy="256.8" r="9.2" fill="url(#gGreenCell)"/>
<circle cx="358.3" cy="259.7" r="9.2" fill="url(#gGreenCell)"/>
<text x="359" y="282.6" font-size="10.2" text-anchor="middle" fill="#1a1a1a" textLength="62.5" lengthAdjust="spacingAndGlyphs">ROS-sensitive</text>
<text x="359" y="293.4" font-size="10.2" text-anchor="middle" fill="#1a1a1a" textLength="56" lengthAdjust="spacingAndGlyphs">tumour cells</text>
<text x="359" y="304.6" font-size="10.2" fill="#1a1a1a" text-anchor="middle">(HO-1<tspan font-size="5.2" dy="-3.8">−−−</tspan><tspan dy="3.8">)</tspan></text>
<linearGradient id="sw5" gradientUnits="userSpaceOnUse" x1="397" y1="249" x2="484.5" y2="261.3"><stop offset="0" stop-color="#b9b4f2" stop-opacity="0.5"/><stop offset="0.5" stop-color="#8f86e0" stop-opacity="0.9"/><stop offset="1" stop-color="#3a2e9e"/></linearGradient>
<path d="M396.9 249.2 L398.6 250.4 L400.4 251.7 L402.2 252.8 L404.1 254.0 L406.1 255.1 L408.2 256.1 L410.3 257.1 L412.5 258.1 L414.8 259.0 L417.2 259.9 L419.6 260.7 L422.1 261.5 L424.6 262.2 L427.3 262.9 L430.0 263.5 L432.7 264.0 L435.5 264.5 L438.4 264.9 L441.4 265.3 L444.4 265.6 L447.5 265.9 L450.7 266.1 L453.9 266.2 L457.2 266.2 L460.5 266.2 L463.9 266.1 L467.4 266.0 L471.0 265.8 L467.7 270.4 L484.5 261.3 L465.9 257.0 L470.4 260.6 L467.0 261.0 L463.6 261.3 L460.3 261.6 L457.1 261.8 L453.9 262.0 L450.8 262.0 L447.7 262.0 L444.7 262.0 L441.7 261.9 L438.8 261.7 L435.9 261.4 L433.2 261.1 L430.4 260.8 L427.8 260.4 L425.2 259.9 L422.6 259.4 L420.1 258.8 L417.7 258.1 L415.4 257.4 L413.1 256.7 L410.9 255.9 L408.7 255.0 L406.6 254.1 L404.6 253.1 L402.6 252.1 L400.7 251.1 L398.9 250.0 L397.1 248.8Z" fill="url(#sw5)"/>
<text x="398.7" y="271.6" font-size="10.4" fill="#1a1a1a" textLength="77" lengthAdjust="spacingAndGlyphs" transform="rotate(7.8 398.7 271.6)">AVAX-based PDT</text>
<linearGradient id="gLaser" gradientUnits="userSpaceOnUse" x1="465" y1="229" x2="444" y2="240"><stop offset="0" stop-color="#ee4a44" stop-opacity="0.85"/><stop offset="1" stop-color="#f7a8a0" stop-opacity="0.55"/></linearGradient>
<path d="M465.5 227.2L441.5 232.8L449.5 246L466 230.6Z" fill="url(#gLaser)"/>
<g transform="translate(464.2 228.6) rotate(-22)"><path d="M0 -3.9L3 -3.3V3.3L0 3.9Z" fill="#33373d"/><rect x="2.8" y="-3.3" width="3" height="6.6" fill="#6d747c"/><rect x="5.6" y="-2.9" width="10.4" height="5.8" rx="0.8" fill="#b0b8c0"/><rect x="5.6" y="-2.9" width="10.4" height="1.8" rx="0.6" fill="#c9cfd5"/><rect x="5.6" y="1.6" width="10.4" height="1.3" rx="0.6" fill="#7e868e"/><path d="M8.4 -2.9V2.9M11 -2.9V2.9M13.6 -2.9V2.9" stroke="#7a828a" stroke-width="0.45"/></g>
<path d="M428.2 233.5 L428.3 233.2 L428.3 233.0 L428.2 232.9 L427.9 233.0 L427.6 233.1 L427.3 233.1 L427.2 233.0 L427.2 232.8 L427.3 232.5 L427.4 232.2 L427.4 232.0 L427.2 232.0 L426.9 232.1 L426.6 232.2" stroke="#e8c94a" stroke-width="0.4450479233226837" fill="none" stroke-linecap="round" stroke-linejoin="round"/>
<use href="#sCpG" transform="translate(426.2 231.4) rotate(-34) scale(0.27603833865814703)" fill="url(#gCpG)"/>
<use href="#sCe6" transform="translate(436.3 231.6) rotate(-4) scale(0.2691373801916933)" fill="url(#gCe6)"/>
<path d="M444.9 233.7 L445.2 233.7 L445.4 233.7 L445.5 233.5 L445.4 233.2 L445.3 232.9 L445.2 232.6 L445.3 232.5 L445.6 232.5 L445.9 232.5 L446.2 232.6 L446.4 232.5 L446.4 232.3 L446.3 232.0 L446.2 231.7" stroke="#e8c94a" stroke-width="0.4450479233226837" fill="none" stroke-linecap="round" stroke-linejoin="round"/>
<use href="#sCpG" transform="translate(447.0 231.1) rotate(50) scale(0.27603833865814703)" fill="url(#gCpG)"/>
<path d="M448.4 243.8 L448.5 244.1 L448.6 244.2 L448.8 244.2 L449.0 243.9 L449.1 243.7 L449.3 243.5 L449.4 243.5 L449.6 243.7 L449.7 244.0 L449.8 244.2 L450.0 244.3 L450.1 244.2 L450.3 244.0 L450.5 243.7" stroke="#e8c94a" stroke-width="0.4450479233226837" fill="none" stroke-linecap="round" stroke-linejoin="round"/>
<use href="#sCpG" transform="translate(451.4 244.0) rotate(105) scale(0.27603833865814703)" fill="url(#gCpG)"/>
<path d="M445.4 251.4 L445.3 251.8 L445.3 252.0 L445.5 252.1 L445.8 252.0 L446.1 252.0 L446.4 251.9 L446.5 252.1 L446.5 252.3 L446.4 252.6 L446.3 252.9 L446.4 253.1 L446.6 253.2 L446.9 253.1 L447.2 253.1" stroke="#e8c94a" stroke-width="0.4450479233226837" fill="none" stroke-linecap="round" stroke-linejoin="round"/>
<use href="#sCpG" transform="translate(447.7 253.9) rotate(147) scale(0.27603833865814703)" fill="url(#gCpG)"/>
<use href="#sCe6" transform="translate(440.0 253.8) rotate(166) scale(0.2691373801916933)" fill="url(#gCe6)"/>
<path d="M433.6 251.9 L433.2 252.0 L433.0 252.2 L433.0 252.4 L433.1 252.7 L433.3 253.0 L433.4 253.3 L433.4 253.5 L433.1 253.6 L432.8 253.7 L432.5 253.8 L432.3 253.9 L432.3 254.2 L432.5 254.5 L432.7 254.8" stroke="#e8c94a" stroke-width="0.4450479233226837" fill="none" stroke-linecap="round" stroke-linejoin="round"/>
<use href="#sCpG" transform="translate(432.1 255.5) rotate(212) scale(0.27603833865814703)" fill="url(#gCpG)"/>
<path d="M425.3 248.3 L425.0 248.1 L424.8 248.1 L424.7 248.2 L424.7 248.5 L424.6 248.8 L424.6 249.1 L424.4 249.1 L424.2 249.0 L423.9 248.8 L423.7 248.7 L423.5 248.7 L423.4 248.8 L423.4 249.1 L423.3 249.5" stroke="#e8c94a" stroke-width="0.4450479233226837" fill="none" stroke-linecap="round" stroke-linejoin="round"/>
<use href="#sCpG" transform="translate(422.4 249.6) rotate(255) scale(0.27603833865814703)" fill="url(#gCpG)"/>
<use href="#sCe6" transform="translate(425.4 244.0) rotate(264) scale(0.2691373801916933)" fill="url(#gCe6)"/>
<g filter="url(#grainShell)"><circle cx="437.2" cy="242.8" r="10.8" fill="url(#gShell)"/></g>
<ellipse cx="437.3" cy="243.3" rx="8.1" ry="7.8" fill="url(#gCav)"/>
<ellipse cx="437.3" cy="243.3" rx="8.1" ry="7.8" fill="none" stroke="#8fc8ea" stroke-width="0.24" opacity="0.7"/>
<g filter="url(#grainCore)"><ellipse cx="437.3" cy="241.6" rx="8.0" ry="6.4" fill="url(#gCore)"/></g>
<circle cx="437.2" cy="242.8" r="10.6" fill="none" stroke="#9fd0f0" stroke-width="0.28" opacity="0.55"/>
<path d="M427.9 237.9A10.5 10.5 0 0 1 442.6 233.8" fill="none" stroke="#b5dcf4" stroke-width="0.55" opacity="0.55" stroke-linecap="round"/>
<use href="#sPep" transform="translate(429.1 234.4) rotate(-44) scale(0.37955271565495213)" fill="url(#gPep)"/>
<use href="#sPep" transform="translate(444.1 234.6) rotate(40) scale(0.37955271565495213)" fill="url(#gPep)"/>
<use href="#sPep" transform="translate(447.2 243.7) rotate(95) scale(0.37955271565495213)" fill="url(#gPep)"/>
<use href="#sPep" transform="translate(444.5 250.6) rotate(137) scale(0.37955271565495213)" fill="url(#gPep)"/>
<use href="#sPep" transform="translate(434.0 250.8) rotate(202) scale(0.37955271565495213)" fill="url(#gPep)"/>
<use href="#sPep" transform="translate(426.4 247.8) rotate(245) scale(0.37955271565495213)" fill="url(#gPep)"/>
<ellipse cx="433.0" cy="242.4" rx="2.3" ry="2.9" fill="none" stroke="#d9822a" stroke-width="0.9316293929712461" transform="rotate(-10 433.0 242.4)"/>
<ellipse cx="433.0" cy="242.4" rx="2.3" ry="2.9" fill="none" stroke="#f4b45a" stroke-width="0.51" stroke-dasharray="0.84 0.65" transform="rotate(-10 433.0 242.4)"/>
<ellipse cx="438.8" cy="238.9" rx="2.7" ry="2.3" fill="none" stroke="#d9822a" stroke-width="0.9316293929712461" transform="rotate(15 438.8 238.9)"/>
<ellipse cx="438.8" cy="238.9" rx="2.7" ry="2.3" fill="none" stroke="#f4b45a" stroke-width="0.51" stroke-dasharray="0.84 0.65" transform="rotate(15 438.8 238.9)"/>
<ellipse cx="441.1" cy="244.3" rx="2.1" ry="2.0" fill="none" stroke="#d9822a" stroke-width="0.8626198083067094"/>
<ellipse cx="441.1" cy="244.3" rx="2.1" ry="2.0" fill="none" stroke="#f4b45a" stroke-width="0.47" stroke-dasharray="0.78 0.60"/>
<ellipse cx="540" cy="288" rx="24" ry="4" fill="#555" opacity="0.55" filter="url(#b1)"/>
<ellipse cx="512" cy="248" rx="13" ry="11" fill="#7a807b"/>
<ellipse cx="530" cy="244" rx="15" ry="11" fill="#7a807b"/>
<ellipse cx="548" cy="248" rx="15" ry="11" fill="#7a807b"/>
<ellipse cx="522" cy="262" rx="17" ry="11" fill="#7a807b"/>
<ellipse cx="544" cy="262" rx="15" ry="11" fill="#7a807b"/>
<ellipse cx="516" cy="276" rx="11" ry="9" fill="#7a807b"/>
<ellipse cx="534" cy="278" rx="13" ry="8" fill="#7a807b"/>
<ellipse cx="558" cy="260" rx="11" ry="11" fill="#7a807b"/>
<ellipse cx="503" cy="256" rx="8" ry="9" fill="#7a807b"/>
<ellipse cx="520" cy="236" rx="10" ry="8" fill="#7a807b"/>
<ellipse cx="536" cy="233" rx="8" ry="6" fill="#7a807b"/>
<ellipse cx="566" cy="268" rx="5" ry="7" fill="#7a807b"/>
<ellipse cx="527" cy="287" rx="8" ry="4" fill="#7a807b"/>
<ellipse cx="508" cy="240" rx="7" ry="7" fill="#7a807b"/>
<ellipse cx="552" cy="238" rx="7" ry="5" fill="#7a807b"/>
<circle cx="499.7" cy="271" r="6.3" fill="url(#gGreenCell)"/>
<circle cx="541.6" cy="275.9" r="3.3" fill="#9aa09a"/>
<circle cx="569.1" cy="269.4" r="3.6" fill="#727874"/>
<circle cx="520.0" cy="284.8" r="2.3" fill="#727874"/>
<circle cx="506.6" cy="243.6" r="3.6" fill="#555b57"/>
<circle cx="563.0" cy="244.3" r="3.7" fill="#9aa09a"/>
<circle cx="563.3" cy="267.8" r="1.8" fill="#929892"/>
<circle cx="513.7" cy="249.3" r="1.7" fill="#828882"/>
<circle cx="510.7" cy="247.2" r="3.3" fill="#626864"/>
<circle cx="539.3" cy="273.5" r="1.5" fill="#b2b8b2"/>
<circle cx="558.4" cy="257.7" r="2.1" fill="#8c928d"/>
<circle cx="528.6" cy="236.3" r="1.9" fill="#626864"/>
<circle cx="522.8" cy="262.4" r="2.3" fill="#555b57"/>
<circle cx="518.5" cy="260.7" r="3.2" fill="#727874"/>
<circle cx="538.7" cy="278.7" r="2.2" fill="#a2a8a2"/>
<circle cx="534.9" cy="245.9" r="2.1" fill="#828882"/>
<circle cx="556.7" cy="267.9" r="3.1" fill="#a2a8a2"/>
<circle cx="533.9" cy="252.4" r="1.9" fill="#b2b8b2"/>
<circle cx="559.1" cy="255.9" r="2.4" fill="#626864"/>
<circle cx="556.9" cy="247.4" r="1.8" fill="#828882"/>
<circle cx="542.2" cy="279.2" r="1.6" fill="#555b57"/>
<circle cx="520.1" cy="228.1" r="2.4" fill="#828882"/>
<circle cx="527.0" cy="258.2" r="3.1" fill="#8c928d"/>
<circle cx="511.6" cy="256.9" r="3.6" fill="#727874"/>
<circle cx="570.5" cy="267.9" r="2.5" fill="#b2b8b2"/>
<circle cx="503.5" cy="258.4" r="2.6" fill="#9aa09a"/>
<circle cx="562.6" cy="249.3" r="3.3" fill="#b2b8b2"/>
<circle cx="547.7" cy="270.5" r="3.2" fill="#b2b8b2"/>
<circle cx="536.1" cy="270.8" r="3.4" fill="#a2a8a2"/>
<circle cx="543.9" cy="264.6" r="1.3" fill="#9aa09a"/>
<circle cx="554.5" cy="246.8" r="2.0" fill="#a2a8a2"/>
<circle cx="558.2" cy="269.3" r="3.3" fill="#b2b8b2"/>
<circle cx="511.6" cy="248.2" r="3.6" fill="#555b57"/>
<circle cx="518.1" cy="283.0" r="3.5" fill="#8c928d"/>
<circle cx="532.6" cy="261.1" r="1.7" fill="#b2b8b2"/>
<circle cx="568.6" cy="257.4" r="3.0" fill="#555b57"/>
<circle cx="538.0" cy="270.6" r="2.4" fill="#9aa09a"/>
<circle cx="554.6" cy="268.6" r="3.1" fill="#626864"/>
<circle cx="504.8" cy="265.1" r="2.9" fill="#828882"/>
<circle cx="506.8" cy="272.0" r="2.9" fill="#626864"/>
<circle cx="529.5" cy="262.4" r="2.3" fill="#b2b8b2"/>
<circle cx="520.7" cy="266.8" r="2.8" fill="#929892"/>
<circle cx="549.7" cy="250.2" r="2.2" fill="#a2a8a2"/>
<circle cx="547.2" cy="262.3" r="3.7" fill="#9aa09a"/>
<circle cx="540.8" cy="230.6" r="2.7" fill="#b2b8b2"/>
<circle cx="518.2" cy="233.0" r="2.3" fill="#9aa09a"/>
<circle cx="519.8" cy="233.9" r="2.8" fill="#8c928d"/>
<circle cx="540.3" cy="248.6" r="3.5" fill="#626864"/>
<circle cx="520.8" cy="246.8" r="3.6" fill="#9aa09a"/>
<circle cx="564.7" cy="250.3" r="2.4" fill="#929892"/>
<circle cx="530.4" cy="257.6" r="3.1" fill="#555b57"/>
<circle cx="539.2" cy="242.2" r="3.8" fill="#8c928d"/>
<circle cx="521.7" cy="257.6" r="2.7" fill="#929892"/>
<circle cx="509.1" cy="242.7" r="1.7" fill="#a2a8a2"/>
<circle cx="513.2" cy="266.6" r="2.5" fill="#727874"/>
<circle cx="512.3" cy="273.6" r="2.8" fill="#9aa09a"/>
<circle cx="546.6" cy="280.9" r="1.6" fill="#626864"/>
<circle cx="509.7" cy="255.9" r="3.6" fill="#9aa09a"/>
<circle cx="504.4" cy="254.1" r="3.3" fill="#8c928d"/>
<circle cx="528.9" cy="271.8" r="3.1" fill="#a2a8a2"/>
<circle cx="528.0" cy="277.1" r="2.1" fill="#626864"/>
<circle cx="547.7" cy="254.3" r="2.0" fill="#8c928d"/>
<circle cx="529.1" cy="262.4" r="2.5" fill="#b2b8b2"/>
<circle cx="534.3" cy="253.8" r="2.7" fill="#626864"/>
<circle cx="569.9" cy="273.9" r="1.6" fill="#a2a8a2"/>
<circle cx="548.7" cy="254.7" r="1.8" fill="#828882"/>
<circle cx="523.6" cy="235.3" r="2.9" fill="#626864"/>
<circle cx="535.8" cy="270.2" r="3.2" fill="#a2a8a2"/>
<circle cx="499.6" cy="254.2" r="2.1" fill="#8c928d"/>
<circle cx="530.1" cy="289.7" r="2.2" fill="#626864"/>
<circle cx="499.9" cy="244.6" r="2.7" fill="#9aa09a"/>
<circle cx="535.3" cy="239.4" r="1.5" fill="#929892"/>
<circle cx="509.9" cy="276.5" r="2.6" fill="#828882"/>
<circle cx="527.0" cy="251.2" r="1.6" fill="#626864"/>
<circle cx="529.3" cy="246.6" r="3.3" fill="#626864"/>
<circle cx="534.6" cy="250.9" r="3.4" fill="#555b57"/>
<circle cx="546.6" cy="239.6" r="1.6" fill="#8c928d"/>
<circle cx="541.7" cy="248.8" r="1.9" fill="#b2b8b2"/>
<circle cx="568.0" cy="273.4" r="3.3" fill="#555b57"/>
<circle cx="543.7" cy="280.3" r="2.4" fill="#b2b8b2"/>
<circle cx="532.5" cy="265.5" r="2.7" fill="#828882"/>
<circle cx="522.0" cy="230.8" r="1.4" fill="#929892"/>
<circle cx="504.8" cy="258.3" r="3.6" fill="#b2b8b2"/>
<circle cx="564.5" cy="267.4" r="2.4" fill="#8c928d"/>
<circle cx="527.7" cy="237.4" r="2.9" fill="#727874"/>
<circle cx="520.2" cy="251.0" r="3.5" fill="#828882"/>
<circle cx="535.5" cy="231.7" r="3.3" fill="#a2a8a2"/>
<circle cx="552.7" cy="246.1" r="1.4" fill="#626864"/>
<circle cx="545.9" cy="257.0" r="3.7" fill="#727874"/>
<circle cx="555.5" cy="246.7" r="2.4" fill="#929892"/>
<circle cx="550.7" cy="235.4" r="1.8" fill="#626864"/>
<circle cx="537.4" cy="270.0" r="2.8" fill="#b2b8b2"/>
<circle cx="546.5" cy="236.9" r="2.2" fill="#727874"/>
<circle cx="502.0" cy="240.8" r="3.0" fill="#626864"/>
<circle cx="543.5" cy="254.1" r="3.7" fill="#626864"/>
<circle cx="527.7" cy="255.7" r="3.0" fill="#828882"/>
<circle cx="518.1" cy="230.6" r="1.5" fill="#8c928d"/>
<circle cx="495.9" cy="257.0" r="3.0" fill="#626864"/>
<circle cx="530.8" cy="278.7" r="1.4" fill="#555b57"/>
<circle cx="526.3" cy="268.8" r="3.5" fill="#929892"/>
<circle cx="503.4" cy="259.6" r="2.3" fill="#9aa09a"/>
<circle cx="541.7" cy="254.9" r="2.2" fill="#555b57"/>
<circle cx="537.1" cy="250.4" r="2.9" fill="#626864"/>
<circle cx="526.6" cy="281.8" r="1.9" fill="#727874"/>
<circle cx="499.9" cy="257.8" r="3.2" fill="#a2a8a2"/>
<circle cx="558.5" cy="245.9" r="1.6" fill="#727874"/>
<circle cx="528.6" cy="272.8" r="3.3" fill="#929892"/>
<circle cx="511.7" cy="258.5" r="1.9" fill="#929892"/>
<circle cx="554.2" cy="250.6" r="3.2" fill="#626864"/>
<circle cx="565.1" cy="269.8" r="3.2" fill="#626864"/>
<circle cx="526.0" cy="281.2" r="2.9" fill="#626864"/>
<circle cx="511.0" cy="280.8" r="2.3" fill="#828882"/>
<circle cx="515.6" cy="245.5" r="1.6" fill="#8c928d"/>
<circle cx="546.1" cy="244.0" r="1.5" fill="#9aa09a"/>
<circle cx="525.5" cy="242.1" r="3.7" fill="#626864"/>
<circle cx="507.9" cy="254.0" r="2.2" fill="#b2b8b2"/>
<circle cx="518.8" cy="235.4" r="2.8" fill="#828882"/>
<circle cx="533.6" cy="236.0" r="3.1" fill="#8c928d"/>
<circle cx="553.8" cy="254.4" r="2.4" fill="#b2b8b2"/>
<circle cx="527.6" cy="254.4" r="2.4" fill="#828882"/>
<circle cx="539.3" cy="231.2" r="3.3" fill="#555b57"/>
<circle cx="547.0" cy="238.5" r="1.3" fill="#929892"/>
<circle cx="529.5" cy="285.7" r="2.3" fill="#929892"/>
<circle cx="514.1" cy="260.1" r="3.2" fill="#929892"/>
<circle cx="519.5" cy="280.6" r="3.3" fill="#626864"/>
<circle cx="541.2" cy="252.1" r="1.7" fill="#929892"/>
<circle cx="505.1" cy="279.8" r="2.1" fill="#8c928d"/>
<circle cx="562.2" cy="267.6" r="3.3" fill="#555b57"/>
<circle cx="540.1" cy="267.5" r="3.3" fill="#626864"/>
<circle cx="514.8" cy="250.8" r="2.5" fill="#555b57"/>
<circle cx="526.7" cy="279.1" r="2.7" fill="#9aa09a"/>
<circle cx="545.6" cy="261.6" r="3.3" fill="#b2b8b2"/>
<circle cx="554.2" cy="238.5" r="2.0" fill="#626864"/>
<circle cx="537.9" cy="277.2" r="3.1" fill="#a2a8a2"/>
<circle cx="518.2" cy="280.1" r="3.6" fill="#9aa09a"/>
<circle cx="506.0" cy="260.2" r="3.5" fill="#929892"/>
<circle cx="517.4" cy="279.0" r="2.4" fill="#626864"/>
<circle cx="545.7" cy="250.5" r="3.2" fill="#9aa09a"/>
<circle cx="540.8" cy="251.1" r="1.6" fill="#9aa09a"/>
<circle cx="513.3" cy="279.8" r="3.3" fill="#727874"/>
<circle cx="542.4" cy="277.7" r="1.9" fill="#727874"/>
<circle cx="537.0" cy="267.9" r="2.9" fill="#9aa09a"/>
<circle cx="550.6" cy="253.2" r="2.4" fill="#9aa09a"/>
<circle cx="539.3" cy="241.1" r="2.3" fill="#727874"/>
<circle cx="497.9" cy="263.4" r="2.8" fill="#828882"/>
<circle cx="525.3" cy="246.8" r="1.6" fill="#b2b8b2"/>
<circle cx="529.7" cy="282.4" r="3.7" fill="#b2b8b2"/>
<circle cx="504.3" cy="256.8" r="2.3" fill="#929892"/>
<circle cx="564.8" cy="267.1" r="3.3" fill="#727874"/>
<circle cx="519.6" cy="277.2" r="2.7" fill="#8c928d"/>
<circle cx="520.2" cy="256.1" r="3.0" fill="#727874"/>
<circle cx="520.8" cy="248.0" r="3.2" fill="#8c928d"/>
<circle cx="513.4" cy="232.2" r="2.5" fill="#b2b8b2"/>
<circle cx="552.6" cy="237.7" r="2.2" fill="#828882"/>
<circle cx="513.0" cy="258.9" r="3.0" fill="#727874"/>
<circle cx="537.5" cy="244.7" r="2.1" fill="#727874"/>
<circle cx="532.7" cy="227.5" r="2.4" fill="#929892"/>
<circle cx="511.3" cy="274.4" r="1.7" fill="#727874"/>
<circle cx="535.6" cy="254.3" r="1.7" fill="#555b57"/>
<circle cx="526.9" cy="233.0" r="1.5" fill="#828882"/>
<circle cx="509.6" cy="256.1" r="2.3" fill="#9aa09a"/>
<circle cx="570.2" cy="265.9" r="3.4" fill="#8c928d"/>
<circle cx="531.7" cy="227.7" r="2.3" fill="#9aa09a"/>
<circle cx="525.4" cy="265.5" r="3.6" fill="#626864"/>
<circle cx="506.5" cy="253.5" r="3.1" fill="#555b57"/>
<circle cx="555.2" cy="253.5" r="3.7" fill="#b2b8b2"/>
<circle cx="506.6" cy="253.5" r="2.0" fill="#8c928d"/>
<circle cx="542.5" cy="277.8" r="3.2" fill="#727874"/>
<circle cx="539.5" cy="233.5" r="1.9" fill="#b2b8b2"/>
<circle cx="503.9" cy="254.0" r="2.0" fill="#b2b8b2"/>
<circle cx="516.7" cy="239.0" r="2.0" fill="#9aa09a"/>
<circle cx="543.3" cy="250.2" r="2.2" fill="#8c928d"/>
<circle cx="535.1" cy="255.0" r="3.5" fill="#828882"/>
<circle cx="510.6" cy="262.2" r="3.1" fill="#828882"/>
<circle cx="508.4" cy="270.6" r="1.4" fill="#626864"/>
<circle cx="554.3" cy="253.3" r="2.6" fill="#929892"/>
<circle cx="521.2" cy="248.2" r="1.4" fill="#a2a8a2"/>
<circle cx="525.8" cy="231.2" r="1.6" fill="#b2b8b2"/>
<circle cx="536.9" cy="243.3" r="2.8" fill="#555b57"/>
<circle cx="494.7" cy="255.4" r="3.1" fill="#9aa09a"/>
<circle cx="541.3" cy="230.9" r="2.6" fill="#9aa09a"/>
<circle cx="520.1" cy="252.6" r="2.4" fill="#727874"/>
<circle cx="530.5" cy="263.6" r="1.8" fill="#8c928d"/>
<circle cx="520.2" cy="247.9" r="3.3" fill="#8c928d"/>
<circle cx="510.5" cy="282.0" r="2.9" fill="#555b57"/>
<circle cx="548.4" cy="265.4" r="3.5" fill="#828882"/>
<circle cx="539.1" cy="263.6" r="3.6" fill="#b2b8b2"/>
<circle cx="530.5" cy="285.0" r="1.4" fill="#555b57"/>
<circle cx="540.6" cy="266.8" r="1.9" fill="#727874"/>
<circle cx="538.9" cy="227.0" r="3.1" fill="#a2a8a2"/>
<circle cx="543.3" cy="283.1" r="1.6" fill="#a2a8a2"/>
<circle cx="510.2" cy="244.9" r="1.3" fill="#b2b8b2"/>
<circle cx="532.4" cy="287.1" r="2.5" fill="#828882"/>
<circle cx="515.1" cy="266.8" r="2.4" fill="#828882"/>
<circle cx="518.3" cy="229.5" r="2.4" fill="#9aa09a"/>
<circle cx="544.0" cy="236.2" r="1.6" fill="#8c928d"/>
<circle cx="502.6" cy="259.2" r="3.6" fill="#b2b8b2"/>
<circle cx="511.0" cy="258.6" r="2.6" fill="#929892"/>
<circle cx="535.8" cy="270.4" r="2.3" fill="#a2a8a2"/>
<circle cx="559.9" cy="244.6" r="1.6" fill="#a2a8a2"/>
<circle cx="524.6" cy="283.2" r="2.6" fill="#8c928d"/>
<circle cx="542.1" cy="268.8" r="3.7" fill="#727874"/>
<circle cx="512.5" cy="276.9" r="1.7" fill="#9aa09a"/>
<circle cx="521.0" cy="268.5" r="3.1" fill="#a2a8a2"/>
<circle cx="513.2" cy="247.6" r="3.8" fill="#555b57"/>
<circle cx="531.5" cy="231.3" r="2.3" fill="#929892"/>
<circle cx="524.3" cy="289.7" r="2.7" fill="#727874"/>
<circle cx="546.6" cy="246.6" r="2.2" fill="#727874"/>
<circle cx="528.1" cy="231.2" r="3.2" fill="#727874"/>
<circle cx="540.9" cy="230.7" r="2.9" fill="#9aa09a"/>
<circle cx="520.7" cy="232.0" r="2.1" fill="#8c928d"/>
<circle cx="506.0" cy="260.0" r="3.6" fill="#555b57"/>
<circle cx="544.4" cy="236.7" r="1.8" fill="#9aa09a"/>
<circle cx="561.6" cy="268.9" r="2.1" fill="#9aa09a"/>
<circle cx="566.9" cy="264.2" r="2.6" fill="#a2a8a2"/>
<circle cx="527.3" cy="252.3" r="3.1" fill="#727874"/>
<circle cx="495.7" cy="255.2" r="2.8" fill="#828882"/>
<circle cx="557.0" cy="257.7" r="2.0" fill="#a2a8a2"/>
<circle cx="542.0" cy="272.8" r="2.7" fill="#9aa09a"/>
<circle cx="516.9" cy="265.4" r="2.9" fill="#8c928d"/>
<circle cx="563.2" cy="260.5" r="2.8" fill="#b2b8b2"/>
<circle cx="533.1" cy="244.6" r="2.2" fill="#828882"/>
<circle cx="512.9" cy="237.6" r="3.7" fill="#626864"/>
<circle cx="514.9" cy="283.7" r="3.0" fill="#555b57"/>
<circle cx="558.7" cy="265.4" r="2.5" fill="#9aa09a"/>
<circle cx="531.4" cy="273.8" r="2.8" fill="#626864"/>
<circle cx="501.7" cy="258.6" r="1.3" fill="#8c928d"/>
<circle cx="529.2" cy="232.4" r="1.8" fill="#828882"/>
<circle cx="559.3" cy="269.6" r="2.3" fill="#929892"/>
<circle cx="505.6" cy="240.5" r="1.5" fill="#9aa09a"/>
<circle cx="520.1" cy="264.8" r="1.9" fill="#727874"/>
<circle cx="520.1" cy="265.8" r="3.2" fill="#8c928d"/>
<circle cx="564.7" cy="261.1" r="1.3" fill="#555b57"/>
<circle cx="527.4" cy="254.7" r="3.3" fill="#8c928d"/>
<circle cx="512.9" cy="229.2" r="3.2" fill="#8c928d"/>
<circle cx="559.8" cy="267.0" r="3.1" fill="#929892"/>
<circle cx="496.6" cy="249.9" r="1.5" fill="#929892"/>
<circle cx="563.0" cy="251.4" r="3.2" fill="#727874"/>
<circle cx="564.9" cy="272.2" r="1.8" fill="#555b57"/>
<circle cx="533.1" cy="238.1" r="3.0" fill="#a2a8a2"/>
<circle cx="523.8" cy="270.2" r="2.9" fill="#8c928d"/>
<circle cx="551.0" cy="238.2" r="2.8" fill="#626864"/>
<circle cx="504.5" cy="261.3" r="3.4" fill="#b2b8b2"/>
<circle cx="542.5" cy="273.6" r="2.4" fill="#828882"/>
<circle cx="541.9" cy="236.7" r="2.7" fill="#555b57"/>
<circle cx="548.3" cy="256.7" r="3.4" fill="#b2b8b2"/>
<circle cx="529.9" cy="249.7" r="3.8" fill="#b2b8b2"/>
<circle cx="553.1" cy="257.4" r="3.3" fill="#8c928d"/>
<circle cx="521.8" cy="263.1" r="3.7" fill="#626864"/>
<circle cx="507.7" cy="244.6" r="3.3" fill="#727874"/>
<circle cx="554.8" cy="257.9" r="1.5" fill="#b2b8b2"/>
<circle cx="523.0" cy="246.4" r="3.4" fill="#626864"/>
<circle cx="514.6" cy="271.4" r="1.6" fill="#9aa09a"/>
<circle cx="562.9" cy="271.7" r="1.5" fill="#8c928d"/>
<circle cx="532.1" cy="256.9" r="2.4" fill="#828882"/>
<circle cx="524.5" cy="267.1" r="2.7" fill="#9aa09a"/>
<circle cx="508.9" cy="244.3" r="1.5" fill="#a2a8a2"/>
<circle cx="523.6" cy="235.2" r="2.9" fill="#555b57"/>
<circle cx="506.0" cy="271.7" r="2.5" fill="#727874"/>
<circle cx="559.4" cy="258.8" r="1.4" fill="#8c928d"/>
<circle cx="539.2" cy="286.3" r="2.1" fill="#8c928d"/>
<circle cx="558.7" cy="259.2" r="2.2" fill="#9aa09a"/>
<circle cx="496.0" cy="259.7" r="3.5" fill="#555b57"/>
<circle cx="544.5" cy="267.1" r="2.3" fill="#555b57"/>
<circle cx="555.6" cy="253.5" r="3.6" fill="#727874"/>
<circle cx="503.1" cy="255.2" r="3.1" fill="#626864"/>
<circle cx="536.8" cy="265.3" r="3.0" fill="#626864"/>
<circle cx="541.9" cy="243.9" r="2.9" fill="#626864"/>
<circle cx="525.3" cy="244.8" r="3.0" fill="#9aa09a"/>
<circle cx="547.6" cy="259.7" r="3.4" fill="#8c928d"/>
<circle cx="541.3" cy="283.3" r="1.7" fill="#8c928d"/>
<circle cx="495.6" cy="254.6" r="2.0" fill="#b2b8b2"/>
<circle cx="521.6" cy="284.0" r="3.8" fill="#828882"/>
<circle cx="534.6" cy="249.0" r="1.8" fill="#555b57"/>
<circle cx="515.1" cy="237.6" r="1.7" fill="#9aa09a"/>
<circle cx="527.1" cy="244.0" r="1.4" fill="#929892"/>
<circle cx="544.7" cy="241.1" r="2.5" fill="#9aa09a"/>
<circle cx="535.7" cy="230.9" r="2.1" fill="#b2b8b2"/>
<circle cx="511.5" cy="260.8" r="1.4" fill="#929892"/>
<circle cx="515.0" cy="249.8" r="1.3" fill="#727874"/>
<circle cx="565.3" cy="268.4" r="3.2" fill="#b2b8b2"/>
<circle cx="555.3" cy="241.9" r="1.7" fill="#a2a8a2"/>
<circle cx="514.3" cy="251.4" r="1.9" fill="#8c928d"/>
<circle cx="528.4" cy="240.3" r="1.4" fill="#9aa09a"/>
<circle cx="506.8" cy="270.6" r="1.5" fill="#8c928d"/>
<circle cx="527.4" cy="232.4" r="1.5" fill="#929892"/>
<circle cx="515.5" cy="240.9" r="2.8" fill="#626864"/>
<circle cx="538.9" cy="246.6" r="2.3" fill="#b2b8b2"/>
<circle cx="511.0" cy="239.1" r="3.4" fill="#a2a8a2"/>
<circle cx="527.0" cy="272.0" r="2.8" fill="#929892"/>
<circle cx="514.0" cy="240.0" r="1.8" fill="#929892"/>
<circle cx="512.2" cy="275.1" r="1.8" fill="#828882"/>
<circle cx="529.9" cy="285.0" r="2.9" fill="#a2a8a2"/>
<circle cx="528.1" cy="262.2" r="1.5" fill="#b2b8b2"/>
<circle cx="520.6" cy="282.7" r="3.4" fill="#b2b8b2"/>
<circle cx="499.5" cy="255.2" r="2.7" fill="#929892"/>
<circle cx="551.8" cy="266.7" r="3.4" fill="#8c928d"/>
<circle cx="503.5" cy="262.2" r="1.8" fill="#828882"/>
<circle cx="511.8" cy="281.9" r="2.0" fill="#b2b8b2"/>
<circle cx="514.8" cy="231.9" r="1.9" fill="#929892"/>
<circle cx="520.6" cy="280.6" r="1.5" fill="#555b57"/>
<circle cx="529.7" cy="234.5" r="3.0" fill="#8c928d"/>
<circle cx="539.4" cy="238.1" r="3.2" fill="#a2a8a2"/>
<circle cx="516.5" cy="271.9" r="2.2" fill="#828882"/>
<circle cx="567.6" cy="273.5" r="3.1" fill="#929892"/>
<circle cx="536.7" cy="279.0" r="3.0" fill="#a2a8a2"/>
<circle cx="552.9" cy="239.9" r="2.5" fill="#9aa09a"/>
<circle cx="557.8" cy="257.7" r="2.5" fill="#929892"/>
<circle cx="544.1" cy="261.8" r="3.3" fill="#828882"/>
<circle cx="546.4" cy="233.8" r="1.6" fill="#626864"/>
<circle cx="524.7" cy="287.9" r="3.7" fill="#626864"/>
<circle cx="516.7" cy="277.9" r="2.6" fill="#9aa09a"/>
<circle cx="542.8" cy="284.6" r="3.1" fill="#828882"/>
<circle cx="530.4" cy="258.5" r="2.9" fill="#9aa09a"/>
<circle cx="515.8" cy="277.9" r="2.8" fill="#626864"/>
<circle cx="511.9" cy="244.9" r="3.3" fill="#929892"/>
<circle cx="526.1" cy="228.7" r="2.5" fill="#8c928d"/>
<circle cx="508.1" cy="253.0" r="1.8" fill="#555b57"/>
<circle cx="500.8" cy="246.0" r="3.2" fill="#b2b8b2"/>
<circle cx="497.0" cy="263.1" r="1.9" fill="#9aa09a"/>
<circle cx="533.0" cy="242.8" r="1.7" fill="#727874"/>
<circle cx="507.0" cy="246.8" r="1.8" fill="#555b57"/>
<circle cx="565.0" cy="253.7" r="1.3" fill="#a2a8a2"/>
<circle cx="559.8" cy="260.8" r="2.3" fill="#727874"/>
<circle cx="514.4" cy="256.6" r="3.6" fill="#828882"/>
<circle cx="562.5" cy="243.5" r="2.4" fill="#9aa09a"/>
<circle cx="496.5" cy="260.4" r="1.5" fill="#555b57"/>
<circle cx="543.2" cy="259.5" r="2.3" fill="#929892"/>
<circle cx="545.9" cy="271.1" r="2.6" fill="#b2b8b2"/>
<circle cx="505.4" cy="273.8" r="1.4" fill="#555b57"/>
<circle cx="523.6" cy="291.2" r="2.5" fill="#9aa09a"/>
<circle cx="508.1" cy="246.0" r="2.5" fill="#929892"/>
<circle cx="507.5" cy="258.2" r="1.9" fill="#a2a8a2"/>
<circle cx="537.7" cy="244.4" r="3.1" fill="#626864"/>
<circle cx="545.8" cy="256.8" r="1.4" fill="#828882"/>
<circle cx="560.0" cy="265.5" r="1.8" fill="#929892"/>
<circle cx="547.0" cy="278.3" r="2.4" fill="#929892"/>
<circle cx="526.3" cy="286.7" r="3.6" fill="#8c928d"/>
<circle cx="537.3" cy="284.5" r="2.4" fill="#828882"/>
<circle cx="562.4" cy="257.8" r="3.5" fill="#a2a8a2"/>
<circle cx="494.2" cy="256.3" r="3.0" fill="#b2b8b2"/>
<circle cx="512.0" cy="269.9" r="1.7" fill="#8f958f" stroke="#4c524e" stroke-width="0.4"/>
<circle cx="517.9" cy="248.2" r="1.0" fill="#8f958f" stroke="#4c524e" stroke-width="0.4"/>
<circle cx="507.4" cy="260.1" r="1.2" fill="#8f958f" stroke="#4c524e" stroke-width="0.4"/>
<circle cx="511.0" cy="252.8" r="1.7" fill="#8f958f" stroke="#4c524e" stroke-width="0.4"/>
<circle cx="539.3" cy="276.6" r="1.7" fill="#8f958f" stroke="#4c524e" stroke-width="0.4"/>
<circle cx="540.9" cy="257.3" r="1.5" fill="#8f958f" stroke="#4c524e" stroke-width="0.4"/>
<circle cx="524.8" cy="237.6" r="1.0" fill="#8f958f" stroke="#4c524e" stroke-width="0.4"/>
<circle cx="518.0" cy="252.9" r="1.1" fill="#8f958f" stroke="#4c524e" stroke-width="0.4"/>
<circle cx="555.2" cy="258.5" r="1.0" fill="#8f958f" stroke="#4c524e" stroke-width="0.4"/>
<circle cx="518.9" cy="244.9" r="1.1" fill="#8f958f" stroke="#4c524e" stroke-width="0.4"/>
<circle cx="540.2" cy="259.2" r="1.3" fill="#8f958f" stroke="#4c524e" stroke-width="0.4"/>
<circle cx="546.5" cy="257.1" r="1.7" fill="#8f958f" stroke="#4c524e" stroke-width="0.4"/>
<circle cx="525.7" cy="279.4" r="1.7" fill="#8f958f" stroke="#4c524e" stroke-width="0.4"/>
<circle cx="541.5" cy="265.3" r="1.6" fill="#8f958f" stroke="#4c524e" stroke-width="0.4"/>
<circle cx="549.2" cy="237.5" r="1.2" fill="#8f958f" stroke="#4c524e" stroke-width="0.4"/>
<circle cx="547.1" cy="247.0" r="1.1" fill="#8f958f" stroke="#4c524e" stroke-width="0.4"/>
<circle cx="545.8" cy="249.1" r="1.2" fill="#8f958f" stroke="#4c524e" stroke-width="0.4"/>
<circle cx="548.3" cy="239.3" r="1.8" fill="#8f958f" stroke="#4c524e" stroke-width="0.4"/>
<circle cx="503.8" cy="264.7" r="1.4" fill="#8f958f" stroke="#4c524e" stroke-width="0.4"/>
<circle cx="540.5" cy="273.7" r="0.9" fill="#8f958f" stroke="#4c524e" stroke-width="0.4"/>
<circle cx="559.6" cy="244.1" r="1.4" fill="#8f958f" stroke="#4c524e" stroke-width="0.4"/>
<circle cx="551.4" cy="246.6" r="1.1" fill="#8f958f" stroke="#4c524e" stroke-width="0.4"/>
<circle cx="544.5" cy="257.0" r="1.4" fill="#8f958f" stroke="#4c524e" stroke-width="0.4"/>
<circle cx="544.4" cy="242.3" r="0.9" fill="#8f958f" stroke="#4c524e" stroke-width="0.4"/>
<circle cx="541.4" cy="283.7" r="1.8" fill="#8f958f" stroke="#4c524e" stroke-width="0.4"/>
<circle cx="530.7" cy="253.5" r="1.3" fill="#8f958f" stroke="#4c524e" stroke-width="0.4"/>
<circle cx="520.0" cy="277.2" r="1.4" fill="#8f958f" stroke="#4c524e" stroke-width="0.4"/>
<circle cx="533.3" cy="276.4" r="1.3" fill="#8f958f" stroke="#4c524e" stroke-width="0.4"/>
<circle cx="538.6" cy="264.3" r="0.9" fill="#8f958f" stroke="#4c524e" stroke-width="0.4"/>
<circle cx="518.1" cy="233.0" r="1.6" fill="#8f958f" stroke="#4c524e" stroke-width="0.4"/>
<circle cx="521.3" cy="233.2" r="1.6" fill="#8f958f" stroke="#4c524e" stroke-width="0.4"/>
<circle cx="506.5" cy="270.8" r="1.5" fill="#8f958f" stroke="#4c524e" stroke-width="0.4"/>
<circle cx="538.8" cy="279.3" r="1.4" fill="#8f958f" stroke="#4c524e" stroke-width="0.4"/>
<circle cx="550.9" cy="254.5" r="1.4" fill="#8f958f" stroke="#4c524e" stroke-width="0.4"/>
<circle cx="514.0" cy="240.1" r="1.3" fill="#8f958f" stroke="#4c524e" stroke-width="0.4"/>
<circle cx="539.9" cy="259.0" r="1.5" fill="#8f958f" stroke="#4c524e" stroke-width="0.4"/>
<circle cx="542.0" cy="252.6" r="1.1" fill="#8f958f" stroke="#4c524e" stroke-width="0.4"/>
<circle cx="546.7" cy="251.1" r="0.8" fill="#8f958f" stroke="#4c524e" stroke-width="0.4"/>
<circle cx="502.6" cy="249.1" r="1.5" fill="#8f958f" stroke="#4c524e" stroke-width="0.4"/>
<circle cx="544.4" cy="258.3" r="1.6" fill="#8f958f" stroke="#4c524e" stroke-width="0.4"/>
<circle cx="516.1" cy="248.6" r="1.6" fill="#8f958f" stroke="#4c524e" stroke-width="0.4"/>
<circle cx="546.4" cy="253.8" r="1.7" fill="#8f958f" stroke="#4c524e" stroke-width="0.4"/>
<circle cx="533.8" cy="289.5" r="1.1" fill="#8f958f" stroke="#4c524e" stroke-width="0.4"/>
<circle cx="545.1" cy="268.9" r="1.8" fill="#8f958f" stroke="#4c524e" stroke-width="0.4"/>
<circle cx="517.2" cy="251.3" r="0.9" fill="#8f958f" stroke="#4c524e" stroke-width="0.4"/>
<circle cx="530.9" cy="276.8" r="1.1" fill="#8f958f" stroke="#4c524e" stroke-width="0.4"/>
<circle cx="508.9" cy="249.8" r="1.8" fill="#8f958f" stroke="#4c524e" stroke-width="0.4"/>
<circle cx="563.9" cy="271.6" r="1.1" fill="#8f958f" stroke="#4c524e" stroke-width="0.4"/>
<circle cx="539.0" cy="239.4" r="1.4" fill="#8f958f" stroke="#4c524e" stroke-width="0.4"/>
<circle cx="570.3" cy="265.4" r="0.9" fill="#8f958f" stroke="#4c524e" stroke-width="0.4"/>
<circle cx="520.2" cy="242.0" r="1.3" fill="#8f958f" stroke="#4c524e" stroke-width="0.4"/>
<circle cx="546.1" cy="246.2" r="1.4" fill="#8f958f" stroke="#4c524e" stroke-width="0.4"/>
<circle cx="533.3" cy="279.2" r="1.4" fill="#8f958f" stroke="#4c524e" stroke-width="0.4"/>
<circle cx="542.9" cy="263.5" r="1.6" fill="#8f958f" stroke="#4c524e" stroke-width="0.4"/>
<circle cx="540.4" cy="283.9" r="1.5" fill="#8f958f" stroke="#4c524e" stroke-width="0.4"/>
<circle cx="520.4" cy="232.0" r="1.6" fill="#8f958f" stroke="#4c524e" stroke-width="0.4"/>
<circle cx="549.1" cy="256.9" r="1.1" fill="#8f958f" stroke="#4c524e" stroke-width="0.4"/>
<circle cx="527.8" cy="238.7" r="1.8" fill="#8f958f" stroke="#4c524e" stroke-width="0.4"/>
<circle cx="504.9" cy="275.1" r="1.2" fill="#8f958f" stroke="#4c524e" stroke-width="0.4"/>
<circle cx="528.8" cy="271.9" r="1.1" fill="#8f958f" stroke="#4c524e" stroke-width="0.4"/>
<circle cx="539.1" cy="238.3" r="1.0" fill="#8f958f" stroke="#4c524e" stroke-width="0.4"/>
<circle cx="534.9" cy="253.9" r="1.7" fill="#8f958f" stroke="#4c524e" stroke-width="0.4"/>
<circle cx="510.5" cy="248.0" r="0.9" fill="#8f958f" stroke="#4c524e" stroke-width="0.4"/>
<circle cx="519.1" cy="282.5" r="1.8" fill="#8f958f" stroke="#4c524e" stroke-width="0.4"/>
<circle cx="547.8" cy="236.9" r="1.2" fill="#8f958f" stroke="#4c524e" stroke-width="0.4"/>
<circle cx="502.4" cy="241.5" r="1.1" fill="#8f958f" stroke="#4c524e" stroke-width="0.4"/>
<circle cx="533.0" cy="244.4" r="1.1" fill="#8f958f" stroke="#4c524e" stroke-width="0.4"/>
<circle cx="525.7" cy="229.2" r="1.3" fill="#8f958f" stroke="#4c524e" stroke-width="0.4"/>
<circle cx="510.0" cy="278.1" r="1.1" fill="#8f958f" stroke="#4c524e" stroke-width="0.4"/>
<circle cx="567.9" cy="257.0" r="1.7" fill="#8f958f" stroke="#4c524e" stroke-width="0.4"/>
<circle cx="535.2" cy="263.9" r="8.7" fill="url(#gGreenCell)"/>
<circle cx="547.8" cy="277.3" r="7.9" fill="url(#gGreenCell)"/>
<circle cx="555.7" cy="246.5" r="4.2" fill="url(#gGreenCell)"/>
<circle cx="531" cy="258" r="1.1" fill="#8f958f" stroke="#4c524e" stroke-width="0.4"/>
<circle cx="540" cy="262" r="1.1" fill="#8f958f" stroke="#4c524e" stroke-width="0.4"/>
<circle cx="536" cy="270" r="1.1" fill="#8f958f" stroke="#4c524e" stroke-width="0.4"/>
<circle cx="545" cy="272" r="1.1" fill="#8f958f" stroke="#4c524e" stroke-width="0.4"/>
<circle cx="551" cy="281" r="1.1" fill="#8f958f" stroke="#4c524e" stroke-width="0.4"/>
<circle cx="498" cy="268" r="1.1" fill="#8f958f" stroke="#4c524e" stroke-width="0.4"/>
<circle cx="517.4" cy="289.6" r="0.9" fill="#5a605c"/>
<circle cx="549.2" cy="273.6" r="0.9" fill="#5a605c"/>
<circle cx="574.0" cy="262.7" r="0.9" fill="#5a605c"/>
<circle cx="500.1" cy="231.5" r="0.9" fill="#5a605c"/>
<circle cx="552.9" cy="277.2" r="0.7" fill="#5a605c"/>
<circle cx="519.8" cy="291.9" r="0.8" fill="#5a605c"/>
<circle cx="522.6" cy="292.9" r="0.9" fill="#5a605c"/>
<circle cx="519.8" cy="223.3" r="0.9" fill="#5a605c"/>
<circle cx="504.6" cy="269.1" r="0.8" fill="#5a605c"/>
<circle cx="568.0" cy="248.2" r="0.8" fill="#5a605c"/>
<circle cx="504.7" cy="232.3" r="1.1" fill="#5a605c"/>
<circle cx="500.3" cy="280.9" r="1.1" fill="#5a605c"/>
<circle cx="501.6" cy="275.3" r="0.7" fill="#5a605c"/>
<circle cx="494.0" cy="253.8" r="0.9" fill="#5a605c"/>
<circle cx="558.5" cy="275.9" r="0.8" fill="#5a605c"/>
<circle cx="530.4" cy="224.0" r="0.6" fill="#5a605c"/>
<circle cx="504.0" cy="279.8" r="1.0" fill="#5a605c"/>
<circle cx="547.4" cy="284.4" r="0.7" fill="#5a605c"/>
<circle cx="505.6" cy="282.5" r="0.7" fill="#5a605c"/>
<circle cx="513.6" cy="228.2" r="1.0" fill="#5a605c"/>
<circle cx="565.3" cy="237.8" r="0.7" fill="#5a605c"/>
<circle cx="549.5" cy="278.8" r="0.9" fill="#5a605c"/>
<circle cx="496.0" cy="247.8" r="1.1" fill="#5a605c"/>
<circle cx="572.5" cy="264.2" r="1.0" fill="#5a605c"/>
<circle cx="558.4" cy="276.8" r="0.9" fill="#5a605c"/>
<circle cx="504.5" cy="232.2" r="0.7" fill="#5a605c"/>
<circle cx="569.4" cy="252.0" r="0.6" fill="#5a605c"/>
<circle cx="566.7" cy="245.9" r="0.9" fill="#5a605c"/>
<circle cx="573.8" cy="268.3" r="0.6" fill="#5a605c"/>
<circle cx="553.5" cy="274.2" r="0.7" fill="#5a605c"/>
<circle cx="504.5" cy="282.7" r="1.1" fill="#5a605c"/>
<circle cx="504.8" cy="280.8" r="0.8" fill="#5a605c"/>
<circle cx="545.5" cy="286.4" r="1.0" fill="#5a605c"/>
<circle cx="563.5" cy="276.6" r="0.7" fill="#5a605c"/>
<circle cx="499.7" cy="277.3" r="0.7" fill="#5a605c"/>
<circle cx="573.8" cy="265.7" r="0.8" fill="#5a605c"/>
<circle cx="537.5" cy="225.6" r="0.7" fill="#5a605c"/>
<circle cx="571.6" cy="271.7" r="1.1" fill="#5a605c"/>
<circle cx="521.3" cy="223.6" r="0.7" fill="#5a605c"/>
<circle cx="497.5" cy="242.4" r="0.6" fill="#5a605c"/>
<circle cx="558.8" cy="233.5" r="0.7" fill="#5a605c"/>
<circle cx="548.6" cy="285.9" r="1.0" fill="#5a605c"/>
<circle cx="573.7" cy="259.5" r="0.6" fill="#5a605c"/>
<circle cx="567.9" cy="243.6" r="0.7" fill="#5a605c"/>
<circle cx="497.0" cy="264.7" r="1.0" fill="#5a605c"/>
<circle cx="548.4" cy="283.7" r="0.8" fill="#5a605c"/>
<circle cx="503.1" cy="232.9" r="1.0" fill="#5a605c"/>
<circle cx="511.8" cy="286.3" r="0.7" fill="#5a605c"/>
<circle cx="572.9" cy="264.6" r="0.8" fill="#5a605c"/>
<circle cx="550.0" cy="278.8" r="1.0" fill="#5a605c"/>
<circle cx="499.7" cy="277.1" r="1.1" fill="#5a605c"/>
<circle cx="494.3" cy="245.1" r="0.8" fill="#5a605c"/>
<circle cx="554.9" cy="272.1" r="0.8" fill="#5a605c"/>
<circle cx="547.6" cy="274.6" r="0.6" fill="#5a605c"/>
<circle cx="513.6" cy="289.3" r="0.6" fill="#5a605c"/>
<circle cx="490.9" cy="258.7" r="0.8" fill="#5a605c"/>
<circle cx="572.9" cy="261.3" r="0.7" fill="#5a605c"/>
<circle cx="572.6" cy="255.2" r="0.8" fill="#5a605c"/>
<circle cx="567.2" cy="238.8" r="0.9" fill="#5a605c"/>
<circle cx="549.6" cy="281.9" r="0.6" fill="#5a605c"/>
<circle cx="528.0" cy="229.6" r="0.8" fill="#5a605c"/>
<circle cx="570.1" cy="277.9" r="0.6" fill="#5a605c"/>
<circle cx="567.0" cy="277.3" r="0.9" fill="#5a605c"/>
<circle cx="504.2" cy="267.2" r="0.8" fill="#5a605c"/>
<circle cx="539.1" cy="225.0" r="0.6" fill="#5a605c"/>
<circle cx="505.3" cy="281.5" r="1.0" fill="#5a605c"/>
<circle cx="531.1" cy="226.2" r="1.0" fill="#5a605c"/>
<circle cx="506.5" cy="268.6" r="0.8" fill="#5a605c"/>
<circle cx="508.3" cy="285.7" r="0.9" fill="#5a605c"/>
<circle cx="567.3" cy="277.8" r="1.0" fill="#5a605c"/>
<circle cx="569.2" cy="250.3" r="0.9" fill="#5a605c"/>
<circle cx="571.3" cy="261.4" r="0.6" fill="#5a605c"/>
<circle cx="516.1" cy="227.1" r="0.7" fill="#5a605c"/>
<circle cx="500.2" cy="233.1" r="0.6" fill="#5a605c"/>
<circle cx="566.8" cy="277.6" r="0.8" fill="#5a605c"/>
<circle cx="506.8" cy="284.7" r="0.7" fill="#5a605c"/>
<circle cx="504.3" cy="281.3" r="0.6" fill="#5a605c"/>
<circle cx="509.5" cy="231.6" r="1.1" fill="#5a605c"/>
<circle cx="527.8" cy="227.7" r="0.6" fill="#5a605c"/>
<circle cx="546.5" cy="228.2" r="0.6" fill="#5a605c"/>
<circle cx="532.2" cy="226.5" r="0.9" fill="#5a605c"/>
<circle cx="568.4" cy="277.5" r="0.8" fill="#5a605c"/>
<circle cx="566.7" cy="278.6" r="0.8" fill="#5a605c"/>
<circle cx="499.7" cy="267.5" r="0.8" fill="#5a605c"/>
<circle cx="550.2" cy="282.0" r="1.0" fill="#5a605c"/>
<circle cx="563.8" cy="246.0" r="0.9" fill="#5a605c"/>
<circle cx="571.0" cy="262.2" r="0.9" fill="#5a605c"/>
<circle cx="533.3" cy="223.9" r="0.5" fill="#5a605c"/>
<circle cx="526.0" cy="293.8" r="0.8" fill="#5a605c"/>
<circle cx="548.9" cy="275.7" r="0.7" fill="#5a605c"/>
<circle cx="530.1" cy="225.5" r="0.7" fill="#5a605c"/>
<circle cx="528.7" cy="226.9" r="0.5" fill="#5a605c"/>
<circle cx="494.7" cy="242.8" r="0.6" fill="#5a605c"/>
<circle cx="497.5" cy="244.4" r="0.9" fill="#5a605c"/>
<circle cx="515.6" cy="289.6" r="0.8" fill="#5a605c"/>
<circle cx="569.0" cy="250.9" r="0.8" fill="#5a605c"/>
<circle cx="549.6" cy="280.3" r="1.0" fill="#5a605c"/>
<circle cx="552.1" cy="229.3" r="1.0" fill="#5a605c"/>
<circle cx="565.5" cy="243.8" r="1.0" fill="#5a605c"/>
<circle cx="493.2" cy="243.2" r="0.8" fill="#5a605c"/>
<circle cx="575.0" cy="258.2" r="1.0" fill="#5a605c"/>
<circle cx="534.5" cy="291.5" r="0.8" fill="#5a605c"/>
<circle cx="535.9" cy="225.5" r="0.7" fill="#5a605c"/>
<circle cx="507.8" cy="229.9" r="0.8" fill="#5a605c"/>
<circle cx="550.6" cy="281.6" r="0.5" fill="#5a605c"/>
<circle cx="499.5" cy="277.8" r="0.9" fill="#5a605c"/>
<circle cx="571.1" cy="252.9" r="0.6" fill="#5a605c"/>
<circle cx="566.5" cy="238.5" r="0.8" fill="#5a605c"/>
<circle cx="560.2" cy="275.4" r="0.5" fill="#5a605c"/>
<circle cx="506.8" cy="287.8" r="0.9" fill="#5a605c"/>
<circle cx="520.2" cy="290.7" r="0.8" fill="#5a605c"/>
<circle cx="568.2" cy="240.1" r="0.9" fill="#5a605c"/>
<circle cx="528.4" cy="292.7" r="1.1" fill="#5a605c"/>
<circle cx="573.3" cy="259.0" r="0.6" fill="#5a605c"/>
<circle cx="502.5" cy="282.2" r="1.1" fill="#5a605c"/>
<circle cx="508.8" cy="285.1" r="1.0" fill="#5a605c"/>
<circle cx="573.3" cy="267.3" r="1.1" fill="#5a605c"/>
<circle cx="538.9" cy="288.2" r="0.7" fill="#5a605c"/>
<circle cx="562.5" cy="237.8" r="0.9" fill="#5a605c"/>
<circle cx="538.6" cy="225.2" r="0.7" fill="#5a605c"/>
<circle cx="494.0" cy="250.1" r="0.5" fill="#5a605c"/>
<circle cx="569.5" cy="250.0" r="0.9" fill="#5a605c"/>
<circle cx="503.1" cy="274.7" r="1.0" fill="#5a605c"/>
<circle cx="504.4" cy="229.3" r="0.9" fill="#5a605c"/>
<circle cx="572.9" cy="266.8" r="0.5" fill="#5a605c"/>
<circle cx="544.1" cy="285.5" r="0.6" fill="#5a605c"/>
<circle cx="554.0" cy="276.5" r="0.7" fill="#5a605c"/>
<circle cx="566.9" cy="278.1" r="1.0" fill="#5a605c"/>
<circle cx="511.4" cy="289.4" r="1.1" fill="#5a605c"/>
<circle cx="550.2" cy="230.0" r="0.7" fill="#5a605c"/>
<circle cx="504.4" cy="238.7" r="4.4" fill="#5a9fd6"/>
<circle cx="504.4" cy="238.7" r="3.1" fill="#3f8f7c"/>
<circle cx="503.5" cy="238.3" r="1.1" fill="none" stroke="#f0a030" stroke-width="0.6"/>
<circle cx="505.5" cy="239.4" r="1.0" fill="none" stroke="#f0a030" stroke-width="0.6"/>
<circle cx="509.6" cy="240.9" r="0.45" fill="#f08a90"/>
<circle cx="505.9" cy="244.1" r="0.45" fill="#f08a90"/>
<circle cx="501.1" cy="243.2" r="0.45" fill="#f08a90"/>
<circle cx="498.8" cy="239.0" r="0.45" fill="#f08a90"/>
<circle cx="500.7" cy="234.5" r="0.45" fill="#f08a90"/>
<circle cx="505.4" cy="233.2" r="0.45" fill="#f08a90"/>
<circle cx="509.3" cy="236.0" r="0.45" fill="#f08a90"/>
<circle cx="519.4" cy="246.5" r="5.5" fill="#5a9fd6"/>
<circle cx="519.4" cy="246.5" r="3.8" fill="#3f8f7c"/>
<circle cx="518.3" cy="245.9" r="1.4" fill="none" stroke="#f0a030" stroke-width="0.6"/>
<circle cx="520.8" cy="247.3" r="1.2" fill="none" stroke="#f0a030" stroke-width="0.6"/>
<circle cx="525.6" cy="249.1" r="0.45" fill="#f08a90"/>
<circle cx="521.2" cy="253.0" r="0.45" fill="#f08a90"/>
<circle cx="515.5" cy="251.9" r="0.45" fill="#f08a90"/>
<circle cx="512.7" cy="246.8" r="0.45" fill="#f08a90"/>
<circle cx="515.0" cy="241.5" r="0.45" fill="#f08a90"/>
<circle cx="520.6" cy="239.9" r="0.45" fill="#f08a90"/>
<circle cx="525.3" cy="243.3" r="0.45" fill="#f08a90"/>
<circle cx="563.6" cy="246.5" r="6" fill="#5a9fd6"/>
<circle cx="563.6" cy="246.5" r="4.2" fill="#3f8f7c"/>
<circle cx="562.4" cy="245.9" r="1.5" fill="none" stroke="#f0a030" stroke-width="0.6"/>
<circle cx="565.1" cy="247.4" r="1.3" fill="none" stroke="#f0a030" stroke-width="0.6"/>
<circle cx="570.2" cy="249.3" r="0.45" fill="#f08a90"/>
<circle cx="565.5" cy="253.4" r="0.45" fill="#f08a90"/>
<circle cx="559.4" cy="252.3" r="0.45" fill="#f08a90"/>
<circle cx="556.4" cy="246.9" r="0.45" fill="#f08a90"/>
<circle cx="558.8" cy="241.1" r="0.45" fill="#f08a90"/>
<circle cx="564.9" cy="239.4" r="0.45" fill="#f08a90"/>
<circle cx="569.9" cy="243.1" r="0.45" fill="#f08a90"/>
<circle cx="513.9" cy="278.1" r="4.4" fill="#5a9fd6"/>
<circle cx="513.9" cy="278.1" r="3.1" fill="#3f8f7c"/>
<circle cx="513.0" cy="277.7" r="1.1" fill="none" stroke="#f0a030" stroke-width="0.6"/>
<circle cx="515.0" cy="278.8" r="1.0" fill="none" stroke="#f0a030" stroke-width="0.6"/>
<circle cx="519.1" cy="280.3" r="0.45" fill="#f08a90"/>
<circle cx="515.4" cy="283.5" r="0.45" fill="#f08a90"/>
<circle cx="510.6" cy="282.6" r="0.45" fill="#f08a90"/>
<circle cx="508.3" cy="278.4" r="0.45" fill="#f08a90"/>
<circle cx="510.2" cy="273.9" r="0.45" fill="#f08a90"/>
<circle cx="514.9" cy="272.6" r="0.45" fill="#f08a90"/>
<circle cx="518.8" cy="275.4" r="0.45" fill="#f08a90"/>
<circle cx="524.2" cy="286.8" r="4.2" fill="#5a9fd6"/>
<circle cx="524.2" cy="286.8" r="2.9" fill="#3f8f7c"/>
<circle cx="523.4" cy="286.4" r="1.1" fill="none" stroke="#f0a030" stroke-width="0.6"/>
<circle cx="525.2" cy="287.4" r="0.9" fill="none" stroke="#f0a030" stroke-width="0.6"/>
<circle cx="529.2" cy="288.9" r="0.45" fill="#f08a90"/>
<circle cx="525.7" cy="292.0" r="0.45" fill="#f08a90"/>
<circle cx="521.0" cy="291.2" r="0.45" fill="#f08a90"/>
<circle cx="518.8" cy="287.1" r="0.45" fill="#f08a90"/>
<circle cx="520.6" cy="282.7" r="0.45" fill="#f08a90"/>
<circle cx="525.1" cy="281.5" r="0.45" fill="#f08a90"/>
<circle cx="528.9" cy="284.2" r="0.45" fill="#f08a90"/>
<text x="533" y="305.6" font-size="10.2" text-anchor="middle" fill="#1a1a1a" textLength="86" lengthAdjust="spacingAndGlyphs">High immunogenic</text>
<text x="533" y="316.2" font-size="10.2" text-anchor="middle" fill="#1a1a1a" textLength="45.5" lengthAdjust="spacingAndGlyphs">cell death</text>
<linearGradient id="sw6" gradientUnits="userSpaceOnUse" x1="558.5" y1="229" x2="580.2" y2="192"><stop offset="0" stop-color="#b9b4f2" stop-opacity="0.5"/><stop offset="0.45" stop-color="#8f86e0" stop-opacity="0.9"/><stop offset="1" stop-color="#4a3eae"/></linearGradient>
<path d="M558.6 229.2 L559.4 228.6 L560.1 228.0 L560.9 227.5 L561.6 226.9 L562.4 226.2 L563.2 225.6 L564.0 224.9 L564.8 224.2 L565.6 223.5 L566.4 222.8 L567.2 222.0 L568.0 221.2 L568.8 220.4 L569.6 219.6 L570.4 218.7 L571.2 217.8 L572.0 216.9 L572.8 215.9 L573.5 215.0 L574.3 214.0 L575.0 212.9 L575.7 211.9 L576.4 210.8 L577.1 209.7 L577.8 208.5 L578.5 207.3 L579.1 206.1 L579.7 204.9 L583.2 207.0 L580.2 192.0 L570.6 203.8 L574.8 203.0 L574.5 204.2 L574.1 205.4 L573.6 206.6 L573.2 207.7 L572.7 208.8 L572.3 209.9 L571.7 211.0 L571.2 212.1 L570.7 213.1 L570.1 214.1 L569.5 215.1 L568.9 216.1 L568.3 217.1 L567.7 218.0 L567.0 218.9 L566.4 219.8 L565.7 220.7 L565.1 221.6 L564.4 222.4 L563.8 223.2 L563.1 224.0 L562.4 224.8 L561.7 225.5 L561.1 226.2 L560.4 226.9 L559.7 227.6 L559.0 228.2 L558.4 228.8Z" fill="url(#sw6)"/>
<linearGradient id="sw7" gradientUnits="userSpaceOnUse" x1="574.5" y1="240" x2="590.6" y2="193.8"><stop offset="0" stop-color="#b9b4f2" stop-opacity="0.5"/><stop offset="0.45" stop-color="#8f86e0" stop-opacity="0.9"/><stop offset="1" stop-color="#4a3eae"/></linearGradient>
<path d="M574.6 240.1 L575.5 239.3 L576.3 238.5 L577.1 237.6 L578.0 236.7 L578.8 235.7 L579.6 234.8 L580.4 233.8 L581.1 232.8 L581.9 231.7 L582.6 230.7 L583.4 229.6 L584.1 228.4 L584.8 227.3 L585.5 226.1 L586.2 224.9 L586.8 223.6 L587.4 222.4 L588.0 221.1 L588.6 219.7 L589.2 218.4 L589.7 217.0 L590.2 215.6 L590.7 214.2 L591.2 212.7 L591.6 211.2 L592.0 209.7 L592.3 208.1 L592.7 206.6 L596.5 208.0 L590.6 193.8 L583.5 207.5 L587.5 205.9 L587.4 207.4 L587.2 208.8 L587.1 210.3 L586.9 211.7 L586.6 213.1 L586.4 214.5 L586.1 215.9 L585.8 217.3 L585.4 218.6 L585.0 219.9 L584.6 221.2 L584.2 222.5 L583.7 223.8 L583.3 225.0 L582.8 226.2 L582.2 227.4 L581.7 228.6 L581.1 229.8 L580.5 230.9 L579.9 232.0 L579.3 233.1 L578.6 234.1 L578.0 235.1 L577.3 236.1 L576.6 237.1 L575.9 238.1 L575.1 239.0 L574.4 239.9Z" fill="url(#sw7)"/>
<text x="550.6" y="225.6" font-size="10.2" fill="#1a1a1a" textLength="35" lengthAdjust="spacingAndGlyphs" transform="rotate(-56 550.6 225.6)">Antigen</text>
<text x="589.4" y="245.2" font-size="10.2" fill="#1a1a1a" textLength="39.5" lengthAdjust="spacingAndGlyphs" transform="rotate(-63.8 589.4 245.2)">Adjuvant</text>
<text x="-0.3" y="346.4" font-size="15" font-weight="bold" fill="#000" stroke="#000" stroke-width="0.25">c</text>
<text x="7.7" y="364.8" font-size="10.6" fill="#1a1a1a" textLength="181" lengthAdjust="spacingAndGlyphs">Components of different nanoplatforms</text>
<line x1="5" y1="369.6" x2="267" y2="369.6" stroke="#222" stroke-width="0.9"/>
<line x1="5" y1="390.7" x2="267" y2="390.7" stroke="#222" stroke-width="0.9"/>
<line x1="5" y1="501.7" x2="267" y2="501.7" stroke="#222" stroke-width="0.9"/>
<text x="13.5" y="384.4" font-size="10.6" fill="#1a1a1a" textLength="26.5" lengthAdjust="spacingAndGlyphs">Name</text>
<text x="90.5" y="384.4" font-size="10.6" text-anchor="middle" fill="#1a1a1a">PA</text>
<text x="135.5" y="384.4" font-size="10.6" text-anchor="middle" fill="#1a1a1a" textLength="49" lengthAdjust="spacingAndGlyphs">HO-1/Cas9</text>
<text x="186" y="384.4" font-size="10.6" text-anchor="middle" fill="#1a1a1a">CpG</text>
<text x="224.5" y="384.4" font-size="10.6" text-anchor="middle" fill="#1a1a1a">Ce6</text>
<text x="253.5" y="384.4" font-size="10.6" text-anchor="middle" fill="#1a1a1a">HA</text>
<text x="13.5" y="403.3" font-size="10.6" fill="#1a1a1a">Core</text>
<path d="M88.3 399.5H92.7M90.5 397.3V401.7" stroke="#222" stroke-width="0.9" fill="none"/>
<path d="M133.3 399.5H137.7M135.5 397.3V401.7" stroke="#222" stroke-width="0.9" fill="none"/>
<path d="M184.3 399.8H188.7" stroke="#222" stroke-width="0.8" fill="none"/>
<path d="M222.3 399.8H226.7" stroke="#222" stroke-width="0.8" fill="none"/>
<path d="M251.3 399.8H255.7" stroke="#222" stroke-width="0.8" fill="none"/>
<text x="13.5" y="422.3" font-size="10.6" fill="#1a1a1a">Shell</text>
<path d="M88.3 419.8H92.7" stroke="#222" stroke-width="0.8" fill="none"/>
<path d="M133.3 419.8H137.7" stroke="#222" stroke-width="0.8" fill="none"/>
<path d="M184.3 419.5H188.7M186.5 417.3V421.7" stroke="#222" stroke-width="0.9" fill="none"/>
<path d="M222.3 419.5H226.7M224.5 417.3V421.7" stroke="#222" stroke-width="0.9" fill="none"/>
<path d="M251.3 419.5H255.7M253.5 417.3V421.7" stroke="#222" stroke-width="0.9" fill="none"/>
<text x="13.5" y="441" font-size="10.4" fill="#1a1a1a">AVAX<tspan font-size="6.6" dy="-4.4">−CpG</tspan></text>
<path d="M88.3 434.5H92.7M90.5 432.3V436.7" stroke="#222" stroke-width="0.9" fill="none"/>
<path d="M133.3 434.5H137.7M135.5 432.3V436.7" stroke="#222" stroke-width="0.9" fill="none"/>
<path d="M184.3 434.5H188.7M186.5 432.3V436.7" stroke="#222" stroke-width="0.9" fill="none"/>
<path d="M222.3 434.8H226.7" stroke="#222" stroke-width="0.8" fill="none"/>
<path d="M251.3 434.5H255.7M253.5 432.3V436.7" stroke="#222" stroke-width="0.9" fill="none"/>
<text x="13.5" y="459.5" font-size="10.4" fill="#1a1a1a">AVAX<tspan font-size="6.6" dy="-4.4">−Ce6</tspan></text>
<path d="M88.3 452.5H92.7M90.5 450.3V454.7" stroke="#222" stroke-width="0.9" fill="none"/>
<path d="M133.3 452.5H137.7M135.5 450.3V454.7" stroke="#222" stroke-width="0.9" fill="none"/>
<path d="M184.3 452.8H188.7" stroke="#222" stroke-width="0.8" fill="none"/>
<path d="M222.3 452.5H226.7M224.5 450.3V454.7" stroke="#222" stroke-width="0.9" fill="none"/>
<path d="M251.3 452.5H255.7M253.5 450.3V454.7" stroke="#222" stroke-width="0.9" fill="none"/>
<text x="13.5" y="478.2" font-size="10.4" fill="#1a1a1a">AVAX<tspan font-size="6.6" dy="-4.4">−Scramble</tspan></text>
<path d="M88.3 474.5H92.7M90.5 472.3V476.7" stroke="#222" stroke-width="0.9" fill="none"/>
<path d="M133.3 474.8H137.7" stroke="#222" stroke-width="0.8" fill="none"/>
<path d="M184.3 474.5H188.7M186.5 472.3V476.7" stroke="#222" stroke-width="0.9" fill="none"/>
<path d="M222.3 474.5H226.7M224.5 472.3V476.7" stroke="#222" stroke-width="0.9" fill="none"/>
<path d="M251.3 474.5H255.7M253.5 472.3V476.7" stroke="#222" stroke-width="0.9" fill="none"/>
<text x="13.5" y="497.2" font-size="10.6" fill="#1a1a1a">AVAX</text>
<path d="M88.3 492.5H92.7M90.5 490.3V494.7" stroke="#222" stroke-width="0.9" fill="none"/>
<path d="M133.3 492.5H137.7M135.5 490.3V494.7" stroke="#222" stroke-width="0.9" fill="none"/>
<path d="M184.3 492.5H188.7M186.5 490.3V494.7" stroke="#222" stroke-width="0.9" fill="none"/>
<path d="M222.3 492.5H226.7M224.5 490.3V494.7" stroke="#222" stroke-width="0.9" fill="none"/>
<path d="M251.3 492.5H255.7M253.5 490.3V494.7" stroke="#222" stroke-width="0.9" fill="none"/>
<text x="293.4" y="346.1" font-size="15" font-weight="bold" fill="#000" stroke="#000" stroke-width="0.25">d</text>
<path d="M323.8 358.5V481.0H446" stroke="#333" stroke-width="0.8" fill="none"/>
<line x1="323.8" y1="481.00" x2="327.8" y2="481.00" stroke="#333" stroke-width="0.8"/>
<text x="320.0" y="484.2" font-size="8.7" text-anchor="end" fill="#1a1a1a">0</text>
<line x1="323.8" y1="456.50" x2="327.8" y2="456.50" stroke="#333" stroke-width="0.8"/>
<text x="320.0" y="459.7" font-size="8.7" text-anchor="end" fill="#1a1a1a">5</text>
<line x1="323.8" y1="432.00" x2="327.8" y2="432.00" stroke="#333" stroke-width="0.8"/>
<text x="320.0" y="435.2" font-size="8.7" text-anchor="end" fill="#1a1a1a">10</text>
<line x1="323.8" y1="407.50" x2="327.8" y2="407.50" stroke="#333" stroke-width="0.8"/>
<text x="320.0" y="410.7" font-size="8.7" text-anchor="end" fill="#1a1a1a">15</text>
<line x1="323.8" y1="383.00" x2="327.8" y2="383.00" stroke="#333" stroke-width="0.8"/>
<text x="320.0" y="386.2" font-size="8.7" text-anchor="end" fill="#1a1a1a">20</text>
<line x1="323.8" y1="358.50" x2="327.8" y2="358.50" stroke="#333" stroke-width="0.8"/>
<text x="320.0" y="361.7" font-size="8.7" text-anchor="end" fill="#1a1a1a">25</text>
<line x1="325.00" y1="481.0" x2="325.00" y2="477.5" stroke="#333" stroke-width="0.8"/>
<text x="329.2" y="489.0" font-size="8.4" text-anchor="end" fill="#1a1a1a" transform="rotate(-45 329.2 489.0)">1.5</text>
<line x1="338.33" y1="481.0" x2="338.33" y2="477.5" stroke="#333" stroke-width="0.8"/>
<text x="342.53" y="489.0" font-size="8.4" text-anchor="end" fill="#1a1a1a" transform="rotate(-45 342.53 489.0)">3.12</text>
<line x1="351.66" y1="481.0" x2="351.66" y2="477.5" stroke="#333" stroke-width="0.8"/>
<text x="355.86" y="489.0" font-size="8.4" text-anchor="end" fill="#1a1a1a" transform="rotate(-45 355.86 489.0)">6.5</text>
<line x1="364.99" y1="481.0" x2="364.99" y2="477.5" stroke="#333" stroke-width="0.8"/>
<text x="369.19" y="489.0" font-size="8.4" text-anchor="end" fill="#1a1a1a" transform="rotate(-45 369.19 489.0)">13.5</text>
<line x1="378.32" y1="481.0" x2="378.32" y2="477.5" stroke="#333" stroke-width="0.8"/>
<text x="382.52" y="489.0" font-size="8.4" text-anchor="end" fill="#1a1a1a" transform="rotate(-45 382.52 489.0)">28.2</text>
<line x1="391.65" y1="481.0" x2="391.65" y2="477.5" stroke="#333" stroke-width="0.8"/>
<text x="395.85" y="489.0" font-size="8.4" text-anchor="end" fill="#1a1a1a" transform="rotate(-45 395.85 489.0)">58.8</text>
<line x1="404.98" y1="481.0" x2="404.98" y2="477.5" stroke="#333" stroke-width="0.8"/>
<text x="409.18" y="489.0" font-size="8.4" text-anchor="end" fill="#1a1a1a" transform="rotate(-45 409.18 489.0)">122</text>
<line x1="418.31" y1="481.0" x2="418.31" y2="477.5" stroke="#333" stroke-width="0.8"/>
<text x="422.51" y="489.0" font-size="8.4" text-anchor="end" fill="#1a1a1a" transform="rotate(-45 422.51 489.0)">255</text>
<line x1="431.64" y1="481.0" x2="431.64" y2="477.5" stroke="#333" stroke-width="0.8"/>
<text x="435.84" y="489.0" font-size="8.4" text-anchor="end" fill="#1a1a1a" transform="rotate(-45 435.84 489.0)">531</text>
<line x1="444.97" y1="481.0" x2="444.97" y2="477.5" stroke="#333" stroke-width="0.8"/>
<text x="449.17" y="489.0" font-size="8.4" text-anchor="end" fill="#1a1a1a" transform="rotate(-45 449.17 489.0)">1,110</text>
<text x="385" y="513.4" font-size="10.2" text-anchor="middle" fill="#1a1a1a">Size (nm)</text>
<text x="303.6" y="422.6" font-size="10.2" text-anchor="middle" fill="#1a1a1a" textLength="50" lengthAdjust="spacingAndGlyphs" transform="rotate(-90 303.6 422.6)">Intensity (%)</text>
<path d="M323.8 481.0 L402.0 481.0 L403.2 481.0 L404.4 479.8 L405.6 476.9 L406.8 472.3 L408.0 465.4 L409.2 455.9 L410.4 443.7 L411.6 429.4 L412.8 414.1 L414.0 399.5 L415.2 387.4 L416.4 379.7 L417.6 377.7 L418.8 381.7 L420.0 391.0 L421.2 404.2 L422.4 419.3 L423.6 434.4 L424.8 448.0 L426.0 459.3 L427.2 467.9 L428.4 474.0 L429.6 478.1 L430.8 480.5 L432.0 481.0 L433.2 481.0 L446.0 481.0" stroke="#e8201c" stroke-width="0.9" fill="none" stroke-linejoin="round"/>
<path d="M323.8 481.0 L386.0 481.0 L387.2 481.0 L388.4 480.8 L389.6 478.8 L390.8 475.5 L392.0 470.7 L393.2 463.8 L394.4 454.9 L395.6 443.9 L396.8 431.5 L398.0 418.6 L399.2 406.5 L400.4 396.7 L401.6 390.5 L402.8 388.9 L404.0 392.1 L405.2 399.6 L406.4 410.3 L407.6 422.8 L408.8 435.7 L410.0 447.8 L411.2 458.1 L412.4 466.3 L413.6 472.5 L414.8 476.8 L416.0 479.6 L417.2 481.0 L418.4 481.0 L419.6 481.0 L446.0 481.0" stroke="#111" stroke-width="0.9" fill="none" stroke-linejoin="round"/>
<line x1="332.7" y1="365.5" x2="341.4" y2="365.5" stroke="#111" stroke-width="1.3"/>
<line x1="332.7" y1="379.2" x2="341.4" y2="379.2" stroke="#e8201c" stroke-width="1.3"/>
<text x="348" y="369" font-size="10.2" fill="#1a1a1a" textLength="47" lengthAdjust="spacingAndGlyphs">PA@pDNA</text>
<text x="348" y="382.8" font-size="10.2" fill="#1a1a1a">AVAX</text>
<text x="473.1" y="346.4" font-size="15" font-weight="bold" fill="#000" stroke="#000" stroke-width="0.25">e</text>
<path d="M508.0 360.2V490.9" stroke="#333" stroke-width="0.8" fill="none"/>
<line x1="508.0" y1="360.20" x2="512.0" y2="360.20" stroke="#333" stroke-width="0.8"/>
<text x="504.4" y="363.4" font-size="8.7" text-anchor="end" fill="#1a1a1a">60</text>
<line x1="508.0" y1="386.34" x2="512.0" y2="386.34" stroke="#333" stroke-width="0.8"/>
<text x="504.4" y="389.54" font-size="8.7" text-anchor="end" fill="#1a1a1a">40</text>
<line x1="508.0" y1="412.48" x2="512.0" y2="412.48" stroke="#333" stroke-width="0.8"/>
<text x="504.4" y="415.68" font-size="8.7" text-anchor="end" fill="#1a1a1a">20</text>
<line x1="508.0" y1="438.62" x2="512.0" y2="438.62" stroke="#333" stroke-width="0.8"/>
<text x="504.4" y="441.82" font-size="8.7" text-anchor="end" fill="#1a1a1a">0</text>
<line x1="508.0" y1="464.76" x2="512.0" y2="464.76" stroke="#333" stroke-width="0.8"/>
<text x="504.4" y="467.96" font-size="8.7" text-anchor="end" fill="#1a1a1a">−20</text>
<line x1="508.0" y1="490.90" x2="512.0" y2="490.90" stroke="#333" stroke-width="0.8"/>
<text x="504.4" y="494.1" font-size="8.7" text-anchor="end" fill="#1a1a1a">−40</text>
<rect x="534.6" y="406.9" width="24.2" height="31.72" fill="#000"/>
<rect x="586.8" y="438.62" width="24.2" height="38.28" fill="#e8201c"/>
<line x1="508.0" y1="438.62" x2="628.3" y2="438.62" stroke="#666" stroke-width="0.8"/>
<path d="M546.7 407V402.2M541.5 402.2H552" stroke="#222" stroke-width="0.7" fill="none"/>
<circle cx="539" cy="407" r="1.4" fill="#fff" stroke="#222" stroke-width="0.6"/>
<circle cx="547" cy="401.8" r="1.4" fill="#fff" stroke="#222" stroke-width="0.6"/>
<circle cx="552.5" cy="404.2" r="1.4" fill="#fff" stroke="#222" stroke-width="0.6"/>
<circle cx="591" cy="478.6" r="1.3" fill="#fff" stroke="#e8201c" stroke-width="0.6"/>
<circle cx="594" cy="478.6" r="1.3" fill="#fff" stroke="#e8201c" stroke-width="0.6"/>
<circle cx="597.5" cy="478.6" r="1.3" fill="#fff" stroke="#e8201c" stroke-width="0.6"/>
<circle cx="600.5" cy="478.6" r="1.3" fill="#fff" stroke="#e8201c" stroke-width="0.6"/>
<circle cx="603.5" cy="478.6" r="1.3" fill="#fff" stroke="#e8201c" stroke-width="0.6"/>
<circle cx="606" cy="478.6" r="1.3" fill="#fff" stroke="#e8201c" stroke-width="0.6"/>
<line x1="519.8" y1="365.2" x2="527.8" y2="365.2" stroke="#000" stroke-width="1.5"/>
<line x1="519.8" y1="379.5" x2="527.8" y2="379.5" stroke="#e8201c" stroke-width="1.5"/>
<text x="532.7" y="368.6" font-size="10.2" fill="#1a1a1a" textLength="47" lengthAdjust="spacingAndGlyphs">PA@pDNA</text>
<text x="532.7" y="382.6" font-size="10.2" fill="#1a1a1a">AVAX</text>
<text x="482.3" y="425.6" font-size="10.2" text-anchor="middle" fill="#1a1a1a" transform="rotate(-90 482.3 425.6)">Zeta potential (mV)</text>
<text x="-0.2" y="541.2" font-size="15" font-weight="bold" fill="#000" stroke="#000" stroke-width="0.25">f</text>
<text x="79" y="544.6" font-size="10.2" text-anchor="middle" fill="#1a1a1a" textLength="46.5" lengthAdjust="spacingAndGlyphs">PA@pDNA</text>
<text x="215.4" y="545.3" font-size="10.2" text-anchor="middle" fill="#1a1a1a">AVAX</text>
<g clip-path="url(#clipL)"><g filter="url(#grainL)">
<rect x="12" y="550" width="133.7" height="133" fill="#8b8b8b"/>
<g filter="url(#b4)">
<ellipse cx="27" cy="559" rx="19" ry="11" fill="#4e4e4e"/>
<ellipse cx="62" cy="553" rx="22" ry="5" fill="#6e6e6e"/>
<ellipse cx="44" cy="572" rx="10" ry="8" fill="#6a6a6a"/>
<ellipse cx="120" cy="556" rx="24" ry="8" fill="#8e8e8e"/>
<ellipse cx="53" cy="680" rx="11" ry="7" fill="#2c2c2c"/>
<ellipse cx="100" cy="653" rx="8" ry="9" fill="#525252"/>
<ellipse cx="76" cy="643" rx="7" ry="7" fill="#5e5e5e"/>
<ellipse cx="88" cy="664" rx="8" ry="6" fill="#6c6c6c"/>
<ellipse cx="22" cy="672" rx="12" ry="10" fill="#9a9a9a"/>
<ellipse cx="125" cy="600" rx="14" ry="10" fill="#929292"/>
<ellipse cx="62" cy="603" rx="14" ry="10" fill="#8e8e8e"/>
<ellipse cx="135" cy="640" rx="8" ry="10" fill="#7a7a7a"/>
<ellipse cx="30" cy="630" rx="10" ry="6" fill="#808080"/>
</g>
<g filter="url(#b06)" fill="#d4d4d4">
<circle cx="59" cy="556.6" r="6.2"/>
<circle cx="36" cy="570" r="6"/>
<circle cx="114.4" cy="558.5" r="7.4"/>
<circle cx="83.8" cy="576.6" r="6"/>
<circle cx="142.5" cy="569.4" r="7.2"/>
<circle cx="41" cy="593.4" r="6"/>
<circle cx="107" cy="598.3" r="8.4"/>
<circle cx="20.5" cy="615" r="7.2"/>
<circle cx="131.2" cy="611.5" r="6"/>
<circle cx="79.5" cy="622.3" r="7.7"/>
<circle cx="112.7" cy="626.4" r="10"/>
<circle cx="54.2" cy="636.8" r="9.6"/>
<circle cx="22.9" cy="647.6" r="8.4"/>
<circle cx="143" cy="653.6" r="7.4"/>
<circle cx="59" cy="669.3" r="5.3"/>
<circle cx="85.5" cy="675.3" r="6.7"/>
<circle cx="13" cy="551" r="4"/>
</g>
</g></g>
<text x="145.2" y="674" font-size="10.4" text-anchor="end" fill="#111" textLength="34.4" lengthAdjust="spacingAndGlyphs">100 nm</text>
<rect x="121.6" y="677.6" width="15.7" height="2.6" fill="#fff"/>
<g clip-path="url(#clipR)"><g filter="url(#grainR)">
<rect x="149.6" y="550" width="132" height="133" fill="#8c8c8c"/>
<g filter="url(#b4)">
<ellipse cx="176" cy="556" rx="28" ry="9" fill="#707070"/>
<ellipse cx="222" cy="553" rx="24" ry="6" fill="#787878"/>
<ellipse cx="155" cy="586" rx="7" ry="12" fill="#767676"/>
<ellipse cx="190" cy="614" rx="16" ry="10" fill="#aaaaaa"/>
<ellipse cx="248" cy="578" rx="12" ry="14" fill="#a6a6a6"/>
<ellipse cx="264" cy="606" rx="12" ry="12" fill="#a8a8a8"/>
<ellipse cx="205" cy="590" rx="10" ry="8" fill="#9c9c9c"/>
<ellipse cx="232" cy="608" rx="12" ry="8" fill="#9e9e9e"/>
<ellipse cx="224" cy="646" rx="13" ry="12" fill="#747474"/>
<ellipse cx="271" cy="650" rx="11" ry="17" fill="#727272"/>
<ellipse cx="163" cy="667" rx="14" ry="16" fill="#767676"/>
<ellipse cx="215" cy="668" rx="12" ry="10" fill="#828282"/>
<ellipse cx="182" cy="598" rx="8" ry="6" fill="#9a9a9a"/>
<ellipse cx="240" cy="666" rx="10" ry="8" fill="#7c7c7c"/>
</g>
<g filter="url(#b2)" fill="#747474" opacity="0.35">
<ellipse cx="172.5" cy="579" rx="14.5" ry="13.7"/>
<ellipse cx="259.2" cy="562.1" rx="15.3" ry="13.5"/>
<ellipse cx="228.4" cy="579.5" rx="14.5" ry="12.3"/>
<ellipse cx="215.8" cy="600.7" rx="14.2" ry="11.9"/>
<ellipse cx="197.8" cy="632.7" rx="13.8" ry="13.5"/>
<ellipse cx="168.9" cy="638.5" rx="12.7" ry="11.9"/>
<ellipse cx="246" cy="638.5" rx="15.7" ry="14.5"/>
<ellipse cx="192.5" cy="671.2" rx="16.5" ry="13.0"/>
</g>
<g filter="url(#b06)" fill="#e4e4e4">
<ellipse cx="172.5" cy="579" rx="13" ry="12.2"/>
<ellipse cx="259.2" cy="562.1" rx="13.8" ry="12"/>
<ellipse cx="228.4" cy="579.5" rx="13" ry="10.8"/>
<ellipse cx="215.8" cy="600.7" rx="12.7" ry="10.4"/>
<ellipse cx="153.5" cy="612.7" rx="10" ry="10.5"/>
<ellipse cx="197.8" cy="632.7" rx="12.3" ry="12"/>
<ellipse cx="168.9" cy="638.5" rx="11.2" ry="10.4"/>
<ellipse cx="246" cy="638.5" rx="14.2" ry="13"/>
<ellipse cx="192.5" cy="671.2" rx="15" ry="11.5"/>
<ellipse cx="246" cy="682" rx="14" ry="8"/>
<ellipse cx="281.5" cy="601.9" rx="6.5" ry="10"/>
</g>
<g filter="url(#b06)" fill="#4a4a4a" opacity="0.7">
<circle cx="183" cy="599" r="1.3"/>
<circle cx="189" cy="564" r="1.3"/>
<circle cx="249" cy="555" r="1.3"/>
<circle cx="276" cy="580" r="1.3"/>
<circle cx="270" cy="607" r="1.3"/>
<circle cx="224" cy="637" r="1.3"/>
<circle cx="186" cy="653" r="1.3"/>
<circle cx="202" cy="654" r="1.3"/>
<circle cx="222" cy="650" r="1.3"/>
<circle cx="168" cy="604" r="1.3"/>
<circle cx="230" cy="669" r="1.3"/>
<circle cx="272" cy="596" r="1.3"/>
</g>
<g filter="url(#b06)" fill="#c4c4c4">
<circle cx="167.5" cy="602.5" r="1.8"/>
<circle cx="250" cy="606.5" r="1.8"/>
<circle cx="218" cy="559.5" r="1.8"/>
</g>
</g></g>
<text x="280" y="674" font-size="10.4" text-anchor="end" fill="#111" textLength="34.4" lengthAdjust="spacingAndGlyphs">100 nm</text>
<rect x="258" y="677.6" width="14.6" height="2.6" fill="#fff"/>
<text x="302.3" y="541.4" font-size="15" font-weight="bold" fill="#000" stroke="#000" stroke-width="0.25">g</text>
<path d="M335.4 553.4V656.2H454.0" stroke="#333" stroke-width="0.8" fill="none"/>
<line x1="335.4" y1="656.20" x2="339.4" y2="656.20" stroke="#333" stroke-width="0.8"/>
<text x="331.6" y="659.4" font-size="8.7" text-anchor="end" fill="#1a1a1a">0</text>
<line x1="335.4" y1="630.50" x2="339.4" y2="630.50" stroke="#333" stroke-width="0.8"/>
<text x="331.6" y="633.7" font-size="8.7" text-anchor="end" fill="#1a1a1a">0.5</text>
<line x1="335.4" y1="604.80" x2="339.4" y2="604.80" stroke="#333" stroke-width="0.8"/>
<text x="331.6" y="608.0" font-size="8.7" text-anchor="end" fill="#1a1a1a">1.0</text>
<line x1="335.4" y1="579.10" x2="339.4" y2="579.10" stroke="#333" stroke-width="0.8"/>
<text x="331.6" y="582.3" font-size="8.7" text-anchor="end" fill="#1a1a1a">1.5</text>
<line x1="335.4" y1="553.40" x2="339.4" y2="553.40" stroke="#333" stroke-width="0.8"/>
<text x="331.6" y="556.6" font-size="8.7" text-anchor="end" fill="#1a1a1a">2.0</text>
<line x1="335.40" y1="656.2" x2="335.40" y2="652.7" stroke="#333" stroke-width="0.8"/>
<text x="335.4" y="667.8" font-size="8.7" text-anchor="middle" fill="#1a1a1a">600</text>
<line x1="374.93" y1="656.2" x2="374.93" y2="652.7" stroke="#333" stroke-width="0.8"/>
<text x="374.93" y="667.8" font-size="8.7" text-anchor="middle" fill="#1a1a1a">650</text>
<line x1="414.47" y1="656.2" x2="414.47" y2="652.7" stroke="#333" stroke-width="0.8"/>
<text x="414.47" y="667.8" font-size="8.7" text-anchor="middle" fill="#1a1a1a">700</text>
<line x1="454.00" y1="656.2" x2="454.00" y2="652.7" stroke="#333" stroke-width="0.8"/>
<text x="454.0" y="667.8" font-size="8.7" text-anchor="middle" fill="#1a1a1a">750</text>
<text x="397.3" y="682" font-size="10.2" text-anchor="middle" fill="#1a1a1a">Wavelength (nm)</text>
<text x="312" y="604.5" font-size="10.2" text-anchor="middle" fill="#1a1a1a" transform="rotate(-90 312 604.5)">Absorbance (a.u.)</text>
<path d="M335.4 656.2 L336.4 657.4 L337.5 656.2 L338.5 656.2 L339.5 657.4 L340.5 656.7 L341.6 656.2 L342.6 657.4 L343.6 656.2 L344.7 656.2 L345.7 656.2 L346.7 656.2 L347.7 655.2 L348.8 656.2 L349.8 656.2 L350.8 657.4 L351.8 656.2 L352.9 654.7 L353.9 656.2 L354.9 656.2 L356.0 656.2 L357.0 657.4 L358.0 656.2 L359.0 656.2 L360.1 656.2 L361.1 656.7 L362.1 656.7 L363.2 656.2 L364.2 656.2 L365.2 657.2 L366.2 656.2 L367.3 656.7 L368.3 657.4 L369.3 656.7 L370.3 655.2 L371.4 656.2 L372.4 656.2 L373.4 656.2 L374.5 656.2 L375.5 655.2 L376.5 654.7 L377.5 657.4 L378.6 656.2 L379.6 655.2 L380.6 657.2 L381.7 656.7 L382.7 657.4 L383.7 655.2 L384.7 656.2 L385.8 656.2 L386.8 656.2 L387.8 654.7 L388.8 656.2 L389.9 655.2 L390.9 654.7 L391.9 656.2 L393.0 656.2 L394.0 656.2 L395.0 656.7 L396.0 656.7 L397.1 656.2 L398.1 656.2 L399.1 654.7 L400.2 654.7 L401.2 654.7 L402.2 656.2 L403.2 656.7 L404.3 655.2 L405.3 657.2 L406.3 656.2 L407.4 655.2 L408.4 657.2 L409.4 656.2 L410.4 654.7 L411.5 656.2 L412.5 656.2 L413.5 656.7 L414.5 656.2 L415.6 656.2 L416.6 656.2 L417.6 656.2 L418.7 656.2 L419.7 656.2 L420.7 657.4 L421.7 656.7 L422.8 656.2 L423.8 657.4 L424.8 656.7 L425.9 656.2 L426.9 654.7 L427.9 654.7 L428.9 656.2 L430.0 654.7 L431.0 654.7 L432.0 656.7 L433.0 656.2 L434.1 655.2 L435.1 655.2 L436.1 656.2 L437.2 656.7 L438.2 656.2 L439.2 654.7 L440.2 656.2 L441.3 656.2 L442.3 656.2 L443.3 656.7 L444.4 656.2 L445.4 655.2 L446.4 656.2 L447.4 657.2 L448.5 655.2 L449.5 654.7 L450.5 656.2 L451.5 656.2" stroke="#22c322" stroke-width="1.3" fill="none" stroke-dasharray="5 2.5 2 3 7 2 1.5 4"/>
<path d="M335.4 656.2 L335.4 649.3 L336.2 648.9 L337.0 648.8 L337.8 648.5 L338.6 648.3 L339.4 648.6 L340.1 648.4 L340.9 647.6 L341.7 648.0 L342.5 647.9 L343.3 647.2 L344.1 647.7 L344.9 647.4 L345.7 647.8 L346.5 647.8 L347.3 648.3 L348.1 648.1 L348.8 648.0 L349.6 648.5 L350.4 648.4 L351.2 648.6 L352.0 649.2 L352.8 648.7 L353.6 648.9 L354.4 649.1 L355.2 649.4 L356.0 648.7 L356.7 649.0 L357.5 648.7 L358.3 648.6 L359.1 648.7 L359.9 648.4 L360.7 648.8 L361.5 648.4 L362.3 648.6 L363.1 648.1 L363.9 648.0 L364.7 648.5 L365.4 648.3 L366.2 648.1 L367.0 647.2 L367.8 647.3 L368.6 646.7 L369.4 646.4 L370.2 645.6 L371.0 644.8 L371.8 643.8 L372.6 642.4 L373.4 640.9 L374.1 638.8 L374.9 636.9 L375.7 634.2 L376.5 631.6 L377.3 628.4 L378.1 625.4 L378.9 622.4 L379.7 618.2 L380.5 614.5 L381.3 611.0 L382.0 608.0 L382.8 605.0 L383.6 603.0 L384.4 600.7 L385.2 600.0 L386.0 600.1 L386.8 601.0 L387.6 601.9 L388.4 604.0 L389.2 607.6 L390.0 610.4 L390.7 614.3 L391.5 618.3 L392.3 622.0 L393.1 625.4 L393.9 628.9 L394.7 632.9 L395.5 635.5 L396.3 638.7 L397.1 640.6 L397.9 643.0 L398.7 644.3 L399.4 644.8 L400.2 646.4 L401.0 647.1 L401.8 648.5 L402.6 649.4 L403.4 649.6 L404.2 650.5 L405.0 650.8 L405.8 650.9 L406.6 651.0 L407.4 651.6 L408.1 651.8 L408.9 651.3 L409.7 651.9 L410.5 651.5 L411.3 651.7 L412.1 652.2 L412.9 652.2 L413.7 652.2 L414.5 652.2 L415.3 652.3 L416.0 652.4 L416.8 652.4 L417.6 652.2 L418.4 652.6 L419.2 652.7 L420.0 652.5 L420.8 653.0 L421.6 653.0 L422.4 652.4 L423.2 652.9 L424.0 652.9 L424.7 653.3 L425.5 653.0 L426.3 652.9 L427.1 653.4 L427.9 653.0 L428.7 653.0 L429.5 653.5 L430.3 653.0 L431.1 653.2 L431.9 653.0 L432.7 653.3 L433.4 653.0 L434.2 653.0 L435.0 653.6 L435.8 653.6 L436.6 653.1 L437.4 652.9 L438.2 653.5 L439.0 653.4 L439.8 653.3 L440.6 653.5 L441.3 653.5 L442.1 653.5 L442.9 653.5 L443.7 653.3 L444.5 653.6 L445.3 653.5 L446.1 653.2 L446.9 653.8 L447.7 653.4 L448.5 653.3 L449.3 653.6 L450.0 653.7 L450.8 653.2 L451.6 653.7 L452.4 653.7 L453.2 653.5 L454.0 653.3" stroke="#e8202a" stroke-width="1.1" fill="none" stroke-linejoin="round"/>
<path d="M335.4 656.2 L335.4 649.2 L336.2 648.9 L337.0 648.7 L337.8 648.0 L338.6 648.2 L339.4 647.6 L340.1 648.0 L340.9 647.7 L341.7 647.3 L342.5 647.0 L343.3 647.3 L344.1 647.5 L344.9 647.6 L345.7 647.4 L346.5 647.8 L347.3 647.5 L348.1 647.6 L348.8 648.3 L349.6 648.4 L350.4 648.1 L351.2 648.4 L352.0 648.3 L352.8 648.8 L353.6 649.0 L354.4 648.9 L355.2 648.5 L356.0 648.9 L356.7 648.8 L357.5 648.7 L358.3 648.7 L359.1 648.6 L359.9 648.1 L360.7 648.7 L361.5 648.7 L362.3 647.8 L363.1 647.8 L363.9 647.5 L364.7 647.8 L365.4 647.1 L366.2 646.9 L367.0 647.1 L367.8 646.3 L368.6 645.6 L369.4 645.1 L370.2 644.3 L371.0 643.4 L371.8 642.1 L372.6 640.5 L373.4 638.7 L374.1 636.0 L374.9 633.5 L375.7 630.0 L376.5 627.1 L377.3 622.5 L378.1 618.5 L378.9 613.8 L379.7 609.2 L380.5 604.6 L381.3 600.3 L382.0 596.5 L382.8 592.2 L383.6 589.5 L384.4 587.1 L385.2 585.6 L386.0 585.5 L386.8 586.5 L387.6 588.0 L388.4 591.1 L389.2 595.0 L390.0 599.3 L390.7 603.4 L391.5 608.5 L392.3 613.1 L393.1 618.2 L393.9 622.9 L394.7 626.9 L395.5 630.5 L396.3 634.5 L397.1 637.1 L397.9 639.6 L398.7 642.0 L399.4 642.9 L400.2 645.2 L401.0 646.0 L401.8 646.9 L402.6 648.5 L403.4 649.0 L404.2 649.6 L405.0 649.8 L405.8 650.3 L406.6 650.6 L407.4 650.6 L408.1 651.4 L408.9 651.6 L409.7 651.7 L410.5 651.8 L411.3 652.0 L412.1 651.4 L412.9 651.6 L413.7 652.3 L414.5 652.1 L415.3 652.3 L416.0 652.4 L416.8 652.4 L417.6 652.2 L418.4 652.3 L419.2 652.6 L420.0 652.8 L420.8 652.7 L421.6 652.9 L422.4 652.6 L423.2 652.5 L424.0 652.9 L424.7 653.1 L425.5 653.1 L426.3 653.0 L427.1 652.8 L427.9 652.7 L428.7 653.1 L429.5 652.7 L430.3 652.9 L431.1 653.1 L431.9 653.2 L432.7 653.1 L433.4 652.9 L434.2 653.2 L435.0 653.0 L435.8 653.2 L436.6 653.4 L437.4 653.2 L438.2 653.1 L439.0 653.6 L439.8 653.3 L440.6 653.3 L441.3 653.0 L442.1 652.9 L442.9 653.4 L443.7 653.0 L444.5 653.1 L445.3 653.5 L446.1 653.4 L446.9 653.7 L447.7 653.1 L448.5 653.3 L449.3 653.1 L450.0 653.2 L450.8 653.3 L451.6 653.2 L452.4 653.4 L453.2 653.8 L454.0 653.4" stroke="#2222e0" stroke-width="1.1" fill="none" stroke-linejoin="round"/>
<line x1="345.4" y1="556.8" x2="352.6" y2="556.8" stroke="#1c1ce8" stroke-width="1.5"/>
<line x1="405.8" y1="556.8" x2="413.5" y2="556.8" stroke="#e8202a" stroke-width="1.5"/>
<line x1="345.4" y1="571" x2="352.6" y2="571" stroke="#22c322" stroke-width="1.5"/>
<text x="356.7" y="559.8" font-size="10.2" fill="#1a1a1a">AVAX<tspan font-size="6.6" dy="-4.4">−Ce6</tspan></text>
<text x="417.2" y="559.8" font-size="10.2" fill="#1a1a1a">AVAX</text>
<text x="356.7" y="573.9" font-size="10.2" fill="#1a1a1a" textLength="64" lengthAdjust="spacingAndGlyphs">AVAX + HAase</text>
<text x="480" y="541.9" font-size="15" font-weight="bold" fill="#000" stroke="#000" stroke-width="0.25">h</text>
<path d="M514.0 552.4V654.0H634" stroke="#333" stroke-width="0.8" fill="none"/>
<line x1="514.0" y1="654.00" x2="518.0" y2="654.00" stroke="#333" stroke-width="0.8"/>
<text x="510.2" y="657.2" font-size="8.7" text-anchor="end" fill="#1a1a1a">0</text>
<line x1="514.0" y1="633.68" x2="518.0" y2="633.68" stroke="#333" stroke-width="0.8"/>
<text x="510.2" y="636.88" font-size="8.7" text-anchor="end" fill="#1a1a1a">0.2</text>
<line x1="514.0" y1="613.36" x2="518.0" y2="613.36" stroke="#333" stroke-width="0.8"/>
<text x="510.2" y="616.56" font-size="8.7" text-anchor="end" fill="#1a1a1a">0.4</text>
<line x1="514.0" y1="593.04" x2="518.0" y2="593.04" stroke="#333" stroke-width="0.8"/>
<text x="510.2" y="596.24" font-size="8.7" text-anchor="end" fill="#1a1a1a">0.6</text>
<line x1="514.0" y1="572.72" x2="518.0" y2="572.72" stroke="#333" stroke-width="0.8"/>
<text x="510.2" y="575.92" font-size="8.7" text-anchor="end" fill="#1a1a1a">0.8</text>
<line x1="514.0" y1="552.40" x2="518.0" y2="552.40" stroke="#333" stroke-width="0.8"/>
<text x="510.2" y="555.6" font-size="8.7" text-anchor="end" fill="#1a1a1a">1.0</text>
<line x1="525.95" y1="654.0" x2="525.95" y2="650.5" stroke="#333" stroke-width="0.8"/>
<text x="525.95" y="669" font-size="8.7" text-anchor="middle" fill="#1a1a1a">240</text>
<line x1="549.45" y1="654.0" x2="549.45" y2="650.5" stroke="#333" stroke-width="0.8"/>
<text x="549.45" y="669" font-size="8.7" text-anchor="middle" fill="#1a1a1a">260</text>
<line x1="572.95" y1="654.0" x2="572.95" y2="650.5" stroke="#333" stroke-width="0.8"/>
<text x="572.95" y="669" font-size="8.7" text-anchor="middle" fill="#1a1a1a">280</text>
<line x1="596.45" y1="654.0" x2="596.45" y2="650.5" stroke="#333" stroke-width="0.8"/>
<text x="596.45" y="669" font-size="8.7" text-anchor="middle" fill="#1a1a1a">300</text>
<line x1="619.95" y1="654.0" x2="619.95" y2="650.5" stroke="#333" stroke-width="0.8"/>
<text x="619.95" y="669" font-size="8.7" text-anchor="middle" fill="#1a1a1a">320</text>
<text x="573" y="682.2" font-size="10.2" text-anchor="middle" fill="#1a1a1a">Wavelength (nm)</text>
<text x="489.5" y="603.2" font-size="10.2" text-anchor="middle" fill="#1a1a1a" transform="rotate(-90 489.5 603.2)">Absorbance (a.u.)</text>
<path d="M514.2 645.7 L515.4 645.3 L516.6 645.1 L517.7 645.1 L518.9 645.0 L520.1 645.0 L521.2 644.8 L522.4 644.5 L523.6 644.0 L524.8 643.4 L526.0 642.8 L527.1 642.0 L528.3 641.2 L529.5 640.4 L530.7 639.5 L531.8 638.7 L533.0 637.8 L534.2 636.9 L535.4 636.1 L536.5 635.2 L537.7 634.3 L538.9 633.5 L540.1 632.7 L541.2 631.9 L542.4 631.2 L543.6 630.5 L544.8 629.8 L545.9 629.2 L547.1 628.6 L548.3 628.1 L549.5 627.7 L550.6 627.3 L551.8 627.0 L553.0 626.8 L554.2 626.7 L555.3 626.6 L556.5 626.6 L557.7 626.6 L558.9 626.8 L560.0 627.0 L561.2 627.3 L562.4 627.6 L563.6 628.1 L564.7 628.5 L565.9 629.1 L567.1 629.6 L568.2 630.3 L569.4 630.9 L570.6 631.7 L571.8 632.4 L573.0 633.2 L574.1 634.0 L575.3 634.8 L576.5 635.7 L577.7 636.7 L578.8 637.8 L580.0 639.0 L581.2 640.2 L582.4 641.4 L583.5 642.6 L584.7 643.9 L585.9 645.1 L587.1 646.3 L588.2 647.4 L589.4 648.5 L590.6 649.6 L591.8 650.6 L592.9 651.5 L594.1 652.3 L595.3 653.0 L596.5 653.7 L597.6 654.0" stroke="#22c322" stroke-width="1.15" fill="none" stroke-linejoin="round"/>
<path d="M514.2 635.7 L515.4 635.1 L516.6 635.0 L517.7 635.2 L518.9 635.6 L520.1 635.8 L521.2 635.8 L522.4 635.4 L523.6 634.7 L524.8 633.7 L526.0 632.5 L527.1 631.1 L528.3 629.6 L529.5 628.0 L530.7 626.4 L531.8 624.8 L533.0 623.1 L534.2 621.4 L535.4 619.8 L536.5 618.1 L537.7 616.5 L538.9 614.9 L540.1 613.3 L541.2 611.9 L542.4 610.4 L543.6 609.1 L544.8 607.8 L545.9 606.7 L547.1 605.6 L548.3 604.7 L549.5 603.8 L550.6 603.1 L551.8 602.6 L553.0 602.1 L554.2 601.8 L555.3 601.7 L556.5 601.7 L557.7 601.8 L558.9 602.1 L560.0 602.5 L561.2 603.1 L562.4 603.7 L563.6 604.5 L564.7 605.4 L565.9 606.4 L567.1 607.5 L568.2 608.7 L569.4 610.0 L570.6 611.4 L571.8 612.8 L573.0 614.3 L574.1 615.8 L575.3 617.4 L576.5 619.1 L577.7 620.9 L578.8 622.9 L580.0 624.9 L581.2 627.1 L582.4 629.2 L583.5 631.4 L584.7 633.5 L585.9 635.6 L587.1 637.7 L588.2 639.6 L589.4 641.5 L590.6 643.3 L591.8 644.9 L592.9 646.4 L594.1 647.8 L595.3 649.1 L596.5 650.2 L597.6 651.2 L598.8 652.1 L600.0 652.8 L601.2 652.8 L602.3 652.8 L603.5 652.8 L604.7 652.8 L605.9 652.8 L607.0 652.8 L608.2 652.8 L609.4 652.8 L610.6 652.8 L611.7 652.8 L612.9 652.8 L614.1 652.8 L615.2 652.8 L616.4 652.8 L617.6 652.8 L618.8 652.8 L620.0 652.8 L621.1 652.8 L622.3 652.8 L623.5 652.8 L624.7 652.8 L625.8 652.8 L627.0 652.8 L628.2 652.8 L629.4 652.8 L630.5 652.8 L631.7 652.8 L632.9 652.8 L634.1 652.8" stroke="#e8202a" stroke-width="1.15" fill="none" stroke-linejoin="round"/>
<path d="M514.2 634.6 L515.4 634.0 L516.6 633.9 L517.7 634.1 L518.9 634.5 L520.1 634.7 L521.2 634.6 L522.4 634.2 L523.6 633.5 L524.8 632.4 L526.0 631.1 L527.1 629.6 L528.3 628.0 L529.5 626.4 L530.7 624.6 L531.8 622.9 L533.0 621.1 L534.2 619.3 L535.4 617.6 L536.5 615.8 L537.7 614.1 L538.9 612.4 L540.1 610.7 L541.2 609.2 L542.4 607.6 L543.6 606.2 L544.8 604.9 L545.9 603.6 L547.1 602.5 L548.3 601.5 L549.5 600.6 L550.6 599.9 L551.8 599.3 L553.0 598.8 L554.2 598.5 L555.3 598.3 L556.5 598.3 L557.7 598.5 L558.9 598.8 L560.0 599.2 L561.2 599.8 L562.4 600.5 L563.6 601.3 L564.7 602.3 L565.9 603.4 L567.1 604.6 L568.2 605.8 L569.4 607.2 L570.6 608.7 L571.8 610.2 L573.0 611.8 L574.1 613.4 L575.3 615.1 L576.5 616.9 L577.7 618.8 L578.8 620.9 L580.0 623.0 L581.2 625.2 L582.4 627.5 L583.5 629.8 L584.7 632.1 L585.9 634.3 L587.1 636.5 L588.2 638.6 L589.4 640.6 L590.6 642.5 L591.8 644.3 L592.9 645.9 L594.1 647.5 L595.3 648.9 L596.5 650.2 L597.6 651.3 L598.8 652.3 L600.0 653.2 L601.2 654.0 L602.3 654.0 L603.5 654.0 L604.7 654.0 L605.9 654.0 L607.0 654.0 L608.2 654.0 L609.4 654.0 L610.6 654.0 L611.7 654.0 L612.9 654.0 L614.1 654.0 L615.2 654.0 L616.4 654.0 L617.6 654.0 L618.8 654.0 L620.0 654.0 L621.1 654.0 L622.3 654.0 L623.5 654.0 L624.7 654.0 L625.8 654.0 L627.0 654.0" stroke="#2222e0" stroke-width="1.15" fill="none" stroke-linejoin="round"/>
<line x1="523.7" y1="557.1" x2="532" y2="557.1" stroke="#1c1ce8" stroke-width="1.6"/>
<line x1="523.7" y1="569" x2="532" y2="569" stroke="#e8202a" stroke-width="1.6"/>
<line x1="523.7" y1="581.8" x2="532" y2="581.8" stroke="#22c322" stroke-width="1.6"/>
<text x="536" y="560" font-size="10.2" fill="#1a1a1a">AVAX<tspan font-size="6.6" dy="-4.4">−CpG</tspan></text>
<text x="536" y="571.9" font-size="10.2" fill="#1a1a1a">AVAX</text>
<text x="536" y="584.2" font-size="10.2" fill="#1a1a1a" textLength="65.3" lengthAdjust="spacingAndGlyphs">AVAX + pH 6.5</text>
</svg>
</body></html>
